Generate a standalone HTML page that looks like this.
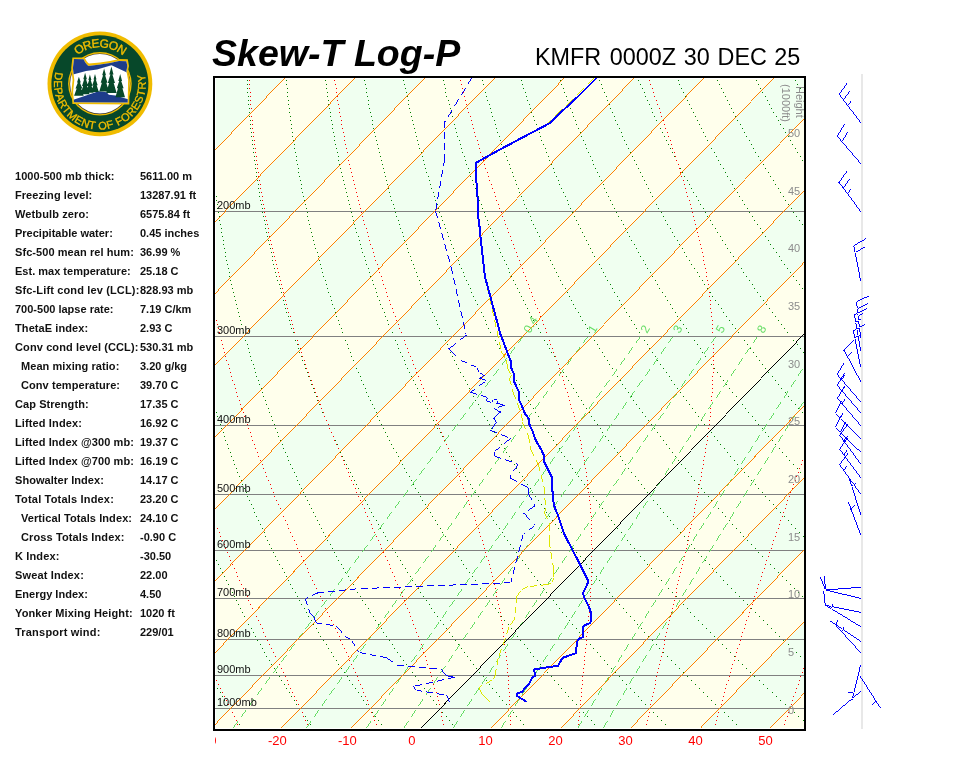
<!DOCTYPE html>
<html><head><meta charset="utf-8"><title>Skew-T Log-P KMFR</title>
<style>html,body{margin:0;padding:0;background:#fff;width:960px;height:768px;overflow:hidden}
svg{display:block} text{font-family:"Liberation Sans",Arial,sans-serif}</style></head>
<body><svg width="960" height="768" viewBox="0 0 960 768">

<defs>
<path id="arcTop" d="M72.02 60.40A36.4 36.4 0 0 1 127.78 60.40"/>
<path id="arcBot" d="M55.66 71.95A45.8 45.8 0 1 0 144.61 73.89"/>
<clipPath id="cp"><rect x="215" y="78" width="589" height="650"/></clipPath>
<clipPath id="cpl"><rect x="215" y="730" width="10" height="20"/></clipPath>
<clipPath id="ore"><path d="M74 59 L83.6 59.2 Q86 64.5 88.6 66 L100 64.6 L110 63 L119 61 L126.3 61.2 L127.4 66 L126.4 71 L128.1 80 L127.7 102.6 L74 102.2 L73.1 92 L74.3 80 L72.9 68 Z"/></clipPath>
</defs>
<circle cx="99.9" cy="83.8" r="52.4" fill="#f0bc00"/>
<circle cx="99.9" cy="83.8" r="48.5" fill="#07482a"/>
<circle cx="99.9" cy="83.8" r="31.8" fill="#f0bc00"/>
<circle cx="99.9" cy="83.8" r="30.4" fill="#333"/>
<circle cx="99.9" cy="83.8" r="29.8" fill="#fff"/>
<path d="M72.4 57.4 L84.6 57.6 Q87 62.5 89 63.6 L100 62.6 L110 61 L119 59 L127.8 59.3 L129 66 L128 71 L129.7 80 L129.3 104.4 L72.4 104 L71.4 92 L72.6 80 L71.2 68 Z" fill="#f0bc00"/>
<g clip-path="url(#ore)">
<rect x="70" y="55" width="62" height="52" fill="#fff"/>
<path d="M70 55 L132 55 L132 72.5 L127 72.5 L111.5 65.3 L97 69.5 L86 71 L73 74.5 L70 74.5 Z" fill="#1e3d8a"/>
<path d="M70 101 L98.6 91.2 L106.7 92.3 L108.8 94.8 L115.4 95.6 L132 100.5 L132 106 L70 106 Z" fill="#1e3d8a"/>
<g fill="#07482a"><path d="M78.9 76.8 L80.8 82.5 L79.9 82.5 L82.3 88.6 L81.1 88.6 L83.7 95.8 L74.1 95.8 L76.7 88.6 L75.5 88.6 L77.9 82.5 L77.0 82.5ZM85.1 72.8 L86.9 79.2 L86.0 79.2 L88.2 86.1 L87.1 86.1 L89.5 94.3 L80.7 94.3 L83.1 86.1 L82.0 86.1 L84.2 79.2 L83.3 79.2ZM89.9 74.6 L91.4 80.1 L90.7 80.1 L92.6 85.9 L91.6 85.9 L93.7 92.8 L86.1 92.8 L88.2 85.9 L87.2 85.9 L89.1 80.1 L88.4 80.1ZM95.0 73.9 L96.5 79.4 L95.8 79.4 L97.7 85.2 L96.7 85.2 L98.8 92.1 L91.2 92.1 L93.3 85.2 L92.3 85.2 L94.2 79.4 L93.5 79.4ZM104.1 68.4 L106.0 75.3 L105.1 75.3 L107.5 82.7 L106.3 82.7 L108.9 91.4 L99.3 91.4 L101.9 82.7 L100.7 82.7 L103.1 75.3 L102.2 75.3ZM111.4 66.6 L113.5 74.5 L112.4 74.5 L115.0 83.0 L113.7 83.0 L116.6 93.0 L106.2 93.0 L109.1 83.0 L107.8 83.0 L110.4 74.5 L109.3 74.5ZM120.2 73.9 L122.1 80.9 L121.2 80.9 L123.6 88.3 L122.4 88.3 L125.0 97.2 L115.4 97.2 L118.0 88.3 L116.8 88.3 L119.2 80.9 L118.3 80.9Z"/></g>
</g>
<text font-size="12" fill="#f0bc00" stroke="#f0bc00" stroke-width="0.4" letter-spacing="-0.8"><textPath href="#arcTop" startOffset="50%" text-anchor="middle">OREGON</textPath></text>
<text font-size="11" fill="#f0bc00" stroke="#f0bc00" stroke-width="0.35"><textPath href="#arcBot" textLength="165" lengthAdjust="spacing">DEPARTMENT OF FORESTRY</textPath></text>

<text x="212" y="65.8" font-size="37.7" font-weight="bold" font-style="italic" fill="#000" textLength="248.3" lengthAdjust="spacingAndGlyphs">Skew-T Log-P</text>
<g font-size="23.4" fill="#000"><text x="535" y="64.6">KMFR</text><text x="609.8" y="64.6">0000Z</text><text x="683.8" y="64.6">30</text><text x="717.5" y="64.6">DEC</text><text x="774.2" y="64.6">25</text></g>
<g font-size="11" font-weight="bold" fill="#111"><text x="15" y="179.6" textLength="99.5" lengthAdjust="spacing">1000-500 mb thick:</text><text x="140" y="179.6">5611.00 m</text><text x="15" y="198.6" textLength="77.2" lengthAdjust="spacing">Freezing level:</text><text x="140" y="198.6">13287.91 ft</text><text x="15" y="217.6" textLength="74.0" lengthAdjust="spacing">Wetbulb zero:</text><text x="140" y="217.6">6575.84 ft</text><text x="15" y="236.6" textLength="97.8" lengthAdjust="spacing">Precipitable water:</text><text x="140" y="236.6">0.45 inches</text><text x="15" y="255.6" textLength="118.8" lengthAdjust="spacing">Sfc-500 mean rel hum:</text><text x="140" y="255.6">36.99 %</text><text x="15" y="274.6" textLength="115.7" lengthAdjust="spacing">Est. max temperature:</text><text x="140" y="274.6">25.18 C</text><text x="15" y="293.6" textLength="124.3" lengthAdjust="spacing">Sfc-Lift cond lev (LCL):</text><text x="140" y="293.6">828.93 mb</text><text x="15" y="312.6" textLength="98.5" lengthAdjust="spacing">700-500 lapse rate:</text><text x="140" y="312.6">7.19 C/km</text><text x="15" y="331.6" textLength="73.2" lengthAdjust="spacing">ThetaE index:</text><text x="140" y="331.6">2.93 C</text><text x="15" y="350.6" textLength="123.4" lengthAdjust="spacing">Conv cond level (CCL):</text><text x="140" y="350.6">530.31 mb</text><text x="21" y="369.6" textLength="98.3" lengthAdjust="spacing">Mean mixing ratio:</text><text x="140" y="369.6">3.20 g/kg</text><text x="21" y="388.6" textLength="99.0" lengthAdjust="spacing">Conv temperature:</text><text x="140" y="388.6">39.70 C</text><text x="15" y="407.6" textLength="73.6" lengthAdjust="spacing">Cap Strength:</text><text x="140" y="407.6">17.35 C</text><text x="15" y="426.6" textLength="66.9" lengthAdjust="spacing">Lifted Index:</text><text x="140" y="426.6">16.92 C</text><text x="15" y="445.6" textLength="118.9" lengthAdjust="spacing">Lifted Index @300 mb:</text><text x="140" y="445.6">19.37 C</text><text x="15" y="464.6" textLength="118.9" lengthAdjust="spacing">Lifted Index @700 mb:</text><text x="140" y="464.6">16.19 C</text><text x="15" y="483.6" textLength="88.8" lengthAdjust="spacing">Showalter Index:</text><text x="140" y="483.6">14.17 C</text><text x="15" y="502.6" textLength="98.8" lengthAdjust="spacing">Total Totals Index:</text><text x="140" y="502.6">23.20 C</text><text x="21" y="521.6" textLength="111.0" lengthAdjust="spacing">Vertical Totals Index:</text><text x="140" y="521.6">24.10 C</text><text x="21" y="540.6" textLength="103.3" lengthAdjust="spacing">Cross Totals Index:</text><text x="140" y="540.6">-0.90 C</text><text x="15" y="559.6" textLength="44.4" lengthAdjust="spacing">K Index:</text><text x="140" y="559.6">-30.50</text><text x="15" y="578.6" textLength="68.8" lengthAdjust="spacing">Sweat Index:</text><text x="140" y="578.6">22.00</text><text x="15" y="597.6" textLength="72.8" lengthAdjust="spacing">Energy Index:</text><text x="140" y="597.6">4.50</text><text x="15" y="616.6" textLength="117.6" lengthAdjust="spacing">Yonker Mixing Height:</text><text x="140" y="616.6">1020 ft</text><text x="15" y="635.6" textLength="85.4" lengthAdjust="spacing">Transport wind:</text><text x="140" y="635.6">229/01</text></g>
<rect x="215" y="78" width="589" height="651" fill="#fff"/>
<rect x="216" y="79" width="588" height="649" fill="#f0fff0"/>
<path d="M284 79 216 149 216 220.8 353.9 79ZM423.7 79 216 292.6 216 364.4 493.5 79ZM563.4 79 216 436.3 216 508.1 633.2 79ZM703.1 79 216 579.9 216 651.7 772.9 79ZM804 118.8 216 723.6 216 728 281.5 728 804 190.7ZM804 262.5 351.4 728 421.2 728 804 334.3ZM804 406.1 491 728 560.9 728 804 477.9ZM804 549.8 630.7 728 700.5 728 804 621.6ZM804 693.4 770.4 728 804 728Z" fill="#ffffec"/>
<path d="M217 688h1v1h-1zM220 692h1v1h-1zM222 696h1v1h-1zM224 700h1v1h-1zM227 704h1v1h-1zM229 708h1v1h-1zM232 712h1v1h-1zM234 716h1v1h-1zM236 720h1v1h-1zM239 724h1v1h-1zM216 560h1v1h-1zM218 564h1v1h-1zM220 568h1v1h-1zM222 572h1v1h-1zM224 576h1v1h-1zM226 580h1v1h-1zM228 584h1v1h-1zM230 588h1v1h-1zM232 592h1v1h-1zM234 596h1v1h-1zM236 600h1v1h-1zM238 604h1v1h-1zM240 608h1v1h-1zM242 612h1v1h-1zM244 616h1v1h-1zM246 620h1v1h-1zM248 624h1v1h-1zM251 628h1v1h-1zM253 632h1v1h-1zM255 636h1v1h-1zM257 640h1v1h-1zM260 644h1v1h-1zM262 648h1v1h-1zM264 652h1v1h-1zM266 656h1v1h-1zM269 660h1v1h-1zM271 664h1v1h-1zM274 668h1v1h-1zM276 672h1v1h-1zM279 676h1v1h-1zM281 680h1v1h-1zM284 684h1v1h-1zM286 688h1v1h-1zM289 692h1v1h-1zM291 696h1v1h-1zM294 700h1v1h-1zM296 704h1v1h-1zM299 708h1v1h-1zM302 712h1v1h-1zM305 716h1v1h-1zM307 720h1v1h-1zM310 724h1v1h-1zM216 412h1v1h-1zM217 416h1v1h-1zM218 420h1v1h-1zM220 424h1v1h-1zM221 428h1v1h-1zM223 432h1v1h-1zM224 436h1v1h-1zM225 440h1v1h-1zM227 444h1v1h-1zM228 448h1v1h-1zM230 452h1v1h-1zM231 456h1v1h-1zM233 460h1v1h-1zM234 464h1v1h-1zM236 468h1v1h-1zM237 472h1v1h-1zM239 476h1v1h-1zM241 480h1v1h-1zM242 484h1v1h-1zM244 488h1v1h-1zM246 492h1v1h-1zM247 496h1v1h-1zM249 500h1v1h-1zM251 504h1v1h-1zM253 508h1v1h-1zM254 512h1v1h-1zM256 516h1v1h-1zM258 520h1v1h-1zM260 524h1v1h-1zM262 528h1v1h-1zM264 532h1v1h-1zM265 536h1v1h-1zM267 540h1v1h-1zM269 544h1v1h-1zM271 548h1v1h-1zM273 552h1v1h-1zM275 556h1v1h-1zM277 560h1v1h-1zM279 564h1v1h-1zM282 568h1v1h-1zM284 572h1v1h-1zM286 576h1v1h-1zM288 580h1v1h-1zM290 584h1v1h-1zM292 588h1v1h-1zM295 592h1v1h-1zM297 596h1v1h-1zM299 600h1v1h-1zM301 604h1v1h-1zM304 608h1v1h-1zM306 612h1v1h-1zM308 616h1v1h-1zM311 620h1v1h-1zM313 624h1v1h-1zM316 628h1v1h-1zM318 632h1v1h-1zM320 636h1v1h-1zM323 640h1v1h-1zM326 644h1v1h-1zM328 648h1v1h-1zM331 652h1v1h-1zM333 656h1v1h-1zM336 660h1v1h-1zM338 664h1v1h-1zM341 668h1v1h-1zM344 672h1v1h-1zM347 676h1v1h-1zM349 680h1v1h-1zM352 684h1v1h-1zM355 688h1v1h-1zM358 692h1v1h-1zM361 696h1v1h-1zM363 700h1v1h-1zM366 704h1v1h-1zM369 708h1v1h-1zM372 712h1v1h-1zM375 716h1v1h-1zM378 720h1v1h-1zM381 724h1v1h-1zM216 196h1v1h-1zM216 200h1v1h-1zM217 204h1v1h-1zM217 208h1v1h-1zM218 212h1v1h-1zM219 216h1v1h-1zM219 220h1v1h-1zM220 224h1v1h-1zM221 228h1v1h-1zM221 232h1v1h-1zM222 236h1v1h-1zM223 240h1v1h-1zM223 244h1v1h-1zM224 248h1v1h-1zM225 252h1v1h-1zM225 256h1v1h-1zM226 260h1v1h-1zM227 264h1v1h-1zM228 268h1v1h-1zM229 272h1v1h-1zM229 276h1v1h-1zM230 280h1v1h-1zM231 284h1v1h-1zM232 288h1v1h-1zM233 292h1v1h-1zM234 296h1v1h-1zM235 300h1v1h-1zM236 304h1v1h-1zM237 308h1v1h-1zM238 312h1v1h-1zM239 316h1v1h-1zM240 320h1v1h-1zM241 324h1v1h-1zM242 328h1v1h-1zM243 332h1v1h-1zM244 336h1v1h-1zM245 340h1v1h-1zM247 344h1v1h-1zM248 348h1v1h-1zM249 352h1v1h-1zM250 356h1v1h-1zM251 360h1v1h-1zM253 364h1v1h-1zM254 368h1v1h-1zM255 372h1v1h-1zM256 376h1v1h-1zM258 380h1v1h-1zM259 384h1v1h-1zM261 388h1v1h-1zM262 392h1v1h-1zM263 396h1v1h-1zM265 400h1v1h-1zM266 404h1v1h-1zM268 408h1v1h-1zM269 412h1v1h-1zM271 416h1v1h-1zM272 420h1v1h-1zM274 424h1v1h-1zM275 428h1v1h-1zM277 432h1v1h-1zM278 436h1v1h-1zM280 440h1v1h-1zM282 444h1v1h-1zM283 448h1v1h-1zM285 452h1v1h-1zM287 456h1v1h-1zM288 460h1v1h-1zM290 464h1v1h-1zM292 468h1v1h-1zM294 472h1v1h-1zM296 476h1v1h-1zM297 480h1v1h-1zM299 484h1v1h-1zM301 488h1v1h-1zM303 492h1v1h-1zM305 496h1v1h-1zM307 500h1v1h-1zM309 504h1v1h-1zM311 508h1v1h-1zM313 512h1v1h-1zM315 516h1v1h-1zM317 520h1v1h-1zM319 524h1v1h-1zM321 528h1v1h-1zM323 532h1v1h-1zM325 536h1v1h-1zM327 540h1v1h-1zM330 544h1v1h-1zM332 548h1v1h-1zM334 552h1v1h-1zM336 556h1v1h-1zM338 560h1v1h-1zM341 564h1v1h-1zM343 568h1v1h-1zM345 572h1v1h-1zM348 576h1v1h-1zM350 580h1v1h-1zM353 584h1v1h-1zM355 588h1v1h-1zM357 592h1v1h-1zM360 596h1v1h-1zM362 600h1v1h-1zM365 604h1v1h-1zM368 608h1v1h-1zM370 612h1v1h-1zM373 616h1v1h-1zM375 620h1v1h-1zM378 624h1v1h-1zM381 628h1v1h-1zM383 632h1v1h-1zM386 636h1v1h-1zM389 640h1v1h-1zM392 644h1v1h-1zM394 648h1v1h-1zM397 652h1v1h-1zM400 656h1v1h-1zM403 660h1v1h-1zM406 664h1v1h-1zM409 668h1v1h-1zM412 672h1v1h-1zM415 676h1v1h-1zM418 680h1v1h-1zM421 684h1v1h-1zM424 688h1v1h-1zM427 692h1v1h-1zM430 696h1v1h-1zM433 700h1v1h-1zM436 704h1v1h-1zM439 708h1v1h-1zM442 712h1v1h-1zM446 716h1v1h-1zM449 720h1v1h-1zM452 724h1v1h-1zM247 80h1v1h-1zM247 84h1v1h-1zM247 88h1v1h-1zM247 92h1v1h-1zM248 96h1v1h-1zM248 100h1v1h-1zM248 104h1v1h-1zM249 108h1v1h-1zM249 112h1v1h-1zM249 116h1v1h-1zM250 120h1v1h-1zM250 124h1v1h-1zM250 128h1v1h-1zM251 132h1v1h-1zM251 136h1v1h-1zM252 140h1v1h-1zM252 144h1v1h-1zM253 148h1v1h-1zM253 152h1v1h-1zM254 156h1v1h-1zM254 160h1v1h-1zM255 164h1v1h-1zM255 168h1v1h-1zM256 172h1v1h-1zM256 176h1v1h-1zM257 180h1v1h-1zM258 184h1v1h-1zM258 188h1v1h-1zM259 192h1v1h-1zM259 196h1v1h-1zM260 200h1v1h-1zM261 204h1v1h-1zM262 208h1v1h-1zM262 212h1v1h-1zM263 216h1v1h-1zM264 220h1v1h-1zM265 224h1v1h-1zM265 228h1v1h-1zM266 232h1v1h-1zM267 236h1v1h-1zM268 240h1v1h-1zM269 244h1v1h-1zM270 248h1v1h-1zM271 252h1v1h-1zM272 256h1v1h-1zM272 260h1v1h-1zM273 264h1v1h-1zM274 268h1v1h-1zM275 272h1v1h-1zM276 276h1v1h-1zM277 280h1v1h-1zM279 284h1v1h-1zM280 288h1v1h-1zM281 292h1v1h-1zM282 296h1v1h-1zM283 300h1v1h-1zM284 304h1v1h-1zM285 308h1v1h-1zM286 312h1v1h-1zM288 316h1v1h-1zM289 320h1v1h-1zM290 324h1v1h-1zM291 328h1v1h-1zM293 332h1v1h-1zM294 336h1v1h-1zM295 340h1v1h-1zM297 344h1v1h-1zM298 348h1v1h-1zM299 352h1v1h-1zM301 356h1v1h-1zM302 360h1v1h-1zM304 364h1v1h-1zM305 368h1v1h-1zM307 372h1v1h-1zM308 376h1v1h-1zM310 380h1v1h-1zM311 384h1v1h-1zM313 388h1v1h-1zM314 392h1v1h-1zM316 396h1v1h-1zM317 400h1v1h-1zM319 404h1v1h-1zM321 408h1v1h-1zM322 412h1v1h-1zM324 416h1v1h-1zM326 420h1v1h-1zM328 424h1v1h-1zM329 428h1v1h-1zM331 432h1v1h-1zM333 436h1v1h-1zM335 440h1v1h-1zM337 444h1v1h-1zM338 448h1v1h-1zM340 452h1v1h-1zM342 456h1v1h-1zM344 460h1v1h-1zM346 464h1v1h-1zM348 468h1v1h-1zM350 472h1v1h-1zM352 476h1v1h-1zM354 480h1v1h-1zM356 484h1v1h-1zM358 488h1v1h-1zM360 492h1v1h-1zM362 496h1v1h-1zM365 500h1v1h-1zM367 504h1v1h-1zM369 508h1v1h-1zM371 512h1v1h-1zM373 516h1v1h-1zM376 520h1v1h-1zM378 524h1v1h-1zM380 528h1v1h-1zM383 532h1v1h-1zM385 536h1v1h-1zM387 540h1v1h-1zM390 544h1v1h-1zM392 548h1v1h-1zM395 552h1v1h-1zM397 556h1v1h-1zM400 560h1v1h-1zM402 564h1v1h-1zM405 568h1v1h-1zM407 572h1v1h-1zM410 576h1v1h-1zM412 580h1v1h-1zM415 584h1v1h-1zM418 588h1v1h-1zM420 592h1v1h-1zM423 596h1v1h-1zM426 600h1v1h-1zM429 604h1v1h-1zM431 608h1v1h-1zM434 612h1v1h-1zM437 616h1v1h-1zM440 620h1v1h-1zM443 624h1v1h-1zM446 628h1v1h-1zM449 632h1v1h-1zM452 636h1v1h-1zM455 640h1v1h-1zM458 644h1v1h-1zM461 648h1v1h-1zM464 652h1v1h-1zM467 656h1v1h-1zM470 660h1v1h-1zM473 664h1v1h-1zM476 668h1v1h-1zM479 672h1v1h-1zM483 676h1v1h-1zM486 680h1v1h-1zM489 684h1v1h-1zM492 688h1v1h-1zM496 692h1v1h-1zM499 696h1v1h-1zM502 700h1v1h-1zM506 704h1v1h-1zM509 708h1v1h-1zM513 712h1v1h-1zM516 716h1v1h-1zM520 720h1v1h-1zM523 724h1v1h-1zM286 80h1v1h-1zM286 84h1v1h-1zM287 88h1v1h-1zM287 92h1v1h-1zM287 96h1v1h-1zM288 100h1v1h-1zM288 104h1v1h-1zM289 108h1v1h-1zM289 112h1v1h-1zM290 116h1v1h-1zM290 120h1v1h-1zM291 124h1v1h-1zM291 128h1v1h-1zM292 132h1v1h-1zM292 136h1v1h-1zM293 140h1v1h-1zM294 144h1v1h-1zM294 148h1v1h-1zM295 152h1v1h-1zM296 156h1v1h-1zM296 160h1v1h-1zM297 164h1v1h-1zM298 168h1v1h-1zM298 172h1v1h-1zM299 176h1v1h-1zM300 180h1v1h-1zM301 184h1v1h-1zM301 188h1v1h-1zM302 192h1v1h-1zM303 196h1v1h-1zM304 200h1v1h-1zM305 204h1v1h-1zM306 208h1v1h-1zM307 212h1v1h-1zM307 216h1v1h-1zM308 220h1v1h-1zM309 224h1v1h-1zM310 228h1v1h-1zM311 232h1v1h-1zM312 236h1v1h-1zM313 240h1v1h-1zM314 244h1v1h-1zM315 248h1v1h-1zM317 252h1v1h-1zM318 256h1v1h-1zM319 260h1v1h-1zM320 264h1v1h-1zM321 268h1v1h-1zM322 272h1v1h-1zM323 276h1v1h-1zM325 280h1v1h-1zM326 284h1v1h-1zM327 288h1v1h-1zM328 292h1v1h-1zM330 296h1v1h-1zM331 300h1v1h-1zM332 304h1v1h-1zM334 308h1v1h-1zM335 312h1v1h-1zM336 316h1v1h-1zM338 320h1v1h-1zM339 324h1v1h-1zM341 328h1v1h-1zM342 332h1v1h-1zM344 336h1v1h-1zM345 340h1v1h-1zM347 344h1v1h-1zM348 348h1v1h-1zM350 352h1v1h-1zM351 356h1v1h-1zM353 360h1v1h-1zM355 364h1v1h-1zM356 368h1v1h-1zM358 372h1v1h-1zM360 376h1v1h-1zM361 380h1v1h-1zM363 384h1v1h-1zM365 388h1v1h-1zM366 392h1v1h-1zM368 396h1v1h-1zM370 400h1v1h-1zM372 404h1v1h-1zM374 408h1v1h-1zM376 412h1v1h-1zM377 416h1v1h-1zM379 420h1v1h-1zM381 424h1v1h-1zM383 428h1v1h-1zM385 432h1v1h-1zM387 436h1v1h-1zM389 440h1v1h-1zM391 444h1v1h-1zM393 448h1v1h-1zM396 452h1v1h-1zM398 456h1v1h-1zM400 460h1v1h-1zM402 464h1v1h-1zM404 468h1v1h-1zM406 472h1v1h-1zM409 476h1v1h-1zM411 480h1v1h-1zM413 484h1v1h-1zM415 488h1v1h-1zM418 492h1v1h-1zM420 496h1v1h-1zM422 500h1v1h-1zM425 504h1v1h-1zM427 508h1v1h-1zM430 512h1v1h-1zM432 516h1v1h-1zM435 520h1v1h-1zM437 524h1v1h-1zM440 528h1v1h-1zM442 532h1v1h-1zM445 536h1v1h-1zM447 540h1v1h-1zM450 544h1v1h-1zM453 548h1v1h-1zM455 552h1v1h-1zM458 556h1v1h-1zM461 560h1v1h-1zM463 564h1v1h-1zM466 568h1v1h-1zM469 572h1v1h-1zM472 576h1v1h-1zM475 580h1v1h-1zM477 584h1v1h-1zM480 588h1v1h-1zM483 592h1v1h-1zM486 596h1v1h-1zM489 600h1v1h-1zM492 604h1v1h-1zM495 608h1v1h-1zM498 612h1v1h-1zM501 616h1v1h-1zM504 620h1v1h-1zM508 624h1v1h-1zM511 628h1v1h-1zM514 632h1v1h-1zM517 636h1v1h-1zM520 640h1v1h-1zM524 644h1v1h-1zM527 648h1v1h-1zM530 652h1v1h-1zM533 656h1v1h-1zM537 660h1v1h-1zM540 664h1v1h-1zM544 668h1v1h-1zM547 672h1v1h-1zM551 676h1v1h-1zM554 680h1v1h-1zM558 684h1v1h-1zM561 688h1v1h-1zM565 692h1v1h-1zM568 696h1v1h-1zM572 700h1v1h-1zM576 704h1v1h-1zM579 708h1v1h-1zM583 712h1v1h-1zM587 716h1v1h-1zM591 720h1v1h-1zM594 724h1v1h-1zM325 80h1v1h-1zM326 84h1v1h-1zM326 88h1v1h-1zM327 92h1v1h-1zM327 96h1v1h-1zM328 100h1v1h-1zM328 104h1v1h-1zM329 108h1v1h-1zM330 112h1v1h-1zM330 116h1v1h-1zM331 120h1v1h-1zM332 124h1v1h-1zM332 128h1v1h-1zM333 132h1v1h-1zM334 136h1v1h-1zM334 140h1v1h-1zM335 144h1v1h-1zM336 148h1v1h-1zM337 152h1v1h-1zM338 156h1v1h-1zM338 160h1v1h-1zM339 164h1v1h-1zM340 168h1v1h-1zM341 172h1v1h-1zM342 176h1v1h-1zM343 180h1v1h-1zM344 184h1v1h-1zM345 188h1v1h-1zM346 192h1v1h-1zM347 196h1v1h-1zM348 200h1v1h-1zM349 204h1v1h-1zM350 208h1v1h-1zM351 212h1v1h-1zM352 216h1v1h-1zM353 220h1v1h-1zM354 224h1v1h-1zM355 228h1v1h-1zM356 232h1v1h-1zM358 236h1v1h-1zM359 240h1v1h-1zM360 244h1v1h-1zM361 248h1v1h-1zM362 252h1v1h-1zM364 256h1v1h-1zM365 260h1v1h-1zM366 264h1v1h-1zM368 268h1v1h-1zM369 272h1v1h-1zM370 276h1v1h-1zM372 280h1v1h-1zM373 284h1v1h-1zM375 288h1v1h-1zM376 292h1v1h-1zM377 296h1v1h-1zM379 300h1v1h-1zM380 304h1v1h-1zM382 308h1v1h-1zM384 312h1v1h-1zM385 316h1v1h-1zM387 320h1v1h-1zM388 324h1v1h-1zM390 328h1v1h-1zM392 332h1v1h-1zM393 336h1v1h-1zM395 340h1v1h-1zM397 344h1v1h-1zM398 348h1v1h-1zM400 352h1v1h-1zM402 356h1v1h-1zM404 360h1v1h-1zM405 364h1v1h-1zM407 368h1v1h-1zM409 372h1v1h-1zM411 376h1v1h-1zM413 380h1v1h-1zM415 384h1v1h-1zM417 388h1v1h-1zM419 392h1v1h-1zM421 396h1v1h-1zM423 400h1v1h-1zM425 404h1v1h-1zM427 408h1v1h-1zM429 412h1v1h-1zM431 416h1v1h-1zM433 420h1v1h-1zM435 424h1v1h-1zM437 428h1v1h-1zM440 432h1v1h-1zM442 436h1v1h-1zM444 440h1v1h-1zM446 444h1v1h-1zM448 448h1v1h-1zM451 452h1v1h-1zM453 456h1v1h-1zM455 460h1v1h-1zM458 464h1v1h-1zM460 468h1v1h-1zM463 472h1v1h-1zM465 476h1v1h-1zM467 480h1v1h-1zM470 484h1v1h-1zM472 488h1v1h-1zM475 492h1v1h-1zM478 496h1v1h-1zM480 500h1v1h-1zM483 504h1v1h-1zM485 508h1v1h-1zM488 512h1v1h-1zM491 516h1v1h-1zM493 520h1v1h-1zM496 524h1v1h-1zM499 528h1v1h-1zM502 532h1v1h-1zM504 536h1v1h-1zM507 540h1v1h-1zM510 544h1v1h-1zM513 548h1v1h-1zM516 552h1v1h-1zM519 556h1v1h-1zM522 560h1v1h-1zM525 564h1v1h-1zM528 568h1v1h-1zM531 572h1v1h-1zM534 576h1v1h-1zM537 580h1v1h-1zM540 584h1v1h-1zM543 588h1v1h-1zM546 592h1v1h-1zM549 596h1v1h-1zM553 600h1v1h-1zM556 604h1v1h-1zM559 608h1v1h-1zM562 612h1v1h-1zM566 616h1v1h-1zM569 620h1v1h-1zM572 624h1v1h-1zM576 628h1v1h-1zM579 632h1v1h-1zM583 636h1v1h-1zM586 640h1v1h-1zM590 644h1v1h-1zM593 648h1v1h-1zM597 652h1v1h-1zM600 656h1v1h-1zM604 660h1v1h-1zM607 664h1v1h-1zM611 668h1v1h-1zM615 672h1v1h-1zM619 676h1v1h-1zM622 680h1v1h-1zM626 684h1v1h-1zM630 688h1v1h-1zM634 692h1v1h-1zM638 696h1v1h-1zM641 700h1v1h-1zM645 704h1v1h-1zM649 708h1v1h-1zM653 712h1v1h-1zM657 716h1v1h-1zM661 720h1v1h-1zM665 724h1v1h-1zM364 80h1v1h-1zM365 84h1v1h-1zM366 88h1v1h-1zM366 92h1v1h-1zM367 96h1v1h-1zM368 100h1v1h-1zM368 104h1v1h-1zM369 108h1v1h-1zM370 112h1v1h-1zM371 116h1v1h-1zM372 120h1v1h-1zM372 124h1v1h-1zM373 128h1v1h-1zM374 132h1v1h-1zM375 136h1v1h-1zM376 140h1v1h-1zM377 144h1v1h-1zM378 148h1v1h-1zM379 152h1v1h-1zM380 156h1v1h-1zM381 160h1v1h-1zM382 164h1v1h-1zM383 168h1v1h-1zM384 172h1v1h-1zM385 176h1v1h-1zM386 180h1v1h-1zM387 184h1v1h-1zM388 188h1v1h-1zM389 192h1v1h-1zM390 196h1v1h-1zM391 200h1v1h-1zM393 204h1v1h-1zM394 208h1v1h-1zM395 212h1v1h-1zM396 216h1v1h-1zM398 220h1v1h-1zM399 224h1v1h-1zM400 228h1v1h-1zM402 232h1v1h-1zM403 236h1v1h-1zM404 240h1v1h-1zM406 244h1v1h-1zM407 248h1v1h-1zM408 252h1v1h-1zM410 256h1v1h-1zM411 260h1v1h-1zM413 264h1v1h-1zM414 268h1v1h-1zM416 272h1v1h-1zM417 276h1v1h-1zM419 280h1v1h-1zM420 284h1v1h-1zM422 288h1v1h-1zM424 292h1v1h-1zM425 296h1v1h-1zM427 300h1v1h-1zM429 304h1v1h-1zM430 308h1v1h-1zM432 312h1v1h-1zM434 316h1v1h-1zM436 320h1v1h-1zM437 324h1v1h-1zM439 328h1v1h-1zM441 332h1v1h-1zM443 336h1v1h-1zM445 340h1v1h-1zM447 344h1v1h-1zM449 348h1v1h-1zM450 352h1v1h-1zM452 356h1v1h-1zM454 360h1v1h-1zM456 364h1v1h-1zM458 368h1v1h-1zM460 372h1v1h-1zM463 376h1v1h-1zM465 380h1v1h-1zM467 384h1v1h-1zM469 388h1v1h-1zM471 392h1v1h-1zM473 396h1v1h-1zM475 400h1v1h-1zM478 404h1v1h-1zM480 408h1v1h-1zM482 412h1v1h-1zM484 416h1v1h-1zM487 420h1v1h-1zM489 424h1v1h-1zM491 428h1v1h-1zM494 432h1v1h-1zM496 436h1v1h-1zM499 440h1v1h-1zM501 444h1v1h-1zM504 448h1v1h-1zM506 452h1v1h-1zM509 456h1v1h-1zM511 460h1v1h-1zM514 464h1v1h-1zM516 468h1v1h-1zM519 472h1v1h-1zM522 476h1v1h-1zM524 480h1v1h-1zM527 484h1v1h-1zM530 488h1v1h-1zM532 492h1v1h-1zM535 496h1v1h-1zM538 500h1v1h-1zM541 504h1v1h-1zM544 508h1v1h-1zM546 512h1v1h-1zM549 516h1v1h-1zM552 520h1v1h-1zM555 524h1v1h-1zM558 528h1v1h-1zM561 532h1v1h-1zM564 536h1v1h-1zM567 540h1v1h-1zM570 544h1v1h-1zM573 548h1v1h-1zM576 552h1v1h-1zM580 556h1v1h-1zM583 560h1v1h-1zM586 564h1v1h-1zM589 568h1v1h-1zM592 572h1v1h-1zM596 576h1v1h-1zM599 580h1v1h-1zM602 584h1v1h-1zM606 588h1v1h-1zM609 592h1v1h-1zM612 596h1v1h-1zM616 600h1v1h-1zM619 604h1v1h-1zM623 608h1v1h-1zM626 612h1v1h-1zM630 616h1v1h-1zM634 620h1v1h-1zM637 624h1v1h-1zM641 628h1v1h-1zM644 632h1v1h-1zM648 636h1v1h-1zM652 640h1v1h-1zM656 644h1v1h-1zM659 648h1v1h-1zM663 652h1v1h-1zM667 656h1v1h-1zM671 660h1v1h-1zM675 664h1v1h-1zM679 668h1v1h-1zM683 672h1v1h-1zM687 676h1v1h-1zM691 680h1v1h-1zM695 684h1v1h-1zM699 688h1v1h-1zM703 692h1v1h-1zM707 696h1v1h-1zM711 700h1v1h-1zM715 704h1v1h-1zM719 708h1v1h-1zM724 712h1v1h-1zM728 716h1v1h-1zM732 720h1v1h-1zM736 724h1v1h-1zM403 80h1v1h-1zM404 84h1v1h-1zM405 88h1v1h-1zM406 92h1v1h-1zM407 96h1v1h-1zM408 100h1v1h-1zM408 104h1v1h-1zM409 108h1v1h-1zM410 112h1v1h-1zM411 116h1v1h-1zM412 120h1v1h-1zM413 124h1v1h-1zM414 128h1v1h-1zM415 132h1v1h-1zM416 136h1v1h-1zM417 140h1v1h-1zM418 144h1v1h-1zM419 148h1v1h-1zM421 152h1v1h-1zM422 156h1v1h-1zM423 160h1v1h-1zM424 164h1v1h-1zM425 168h1v1h-1zM426 172h1v1h-1zM428 176h1v1h-1zM429 180h1v1h-1zM430 184h1v1h-1zM431 188h1v1h-1zM433 192h1v1h-1zM434 196h1v1h-1zM435 200h1v1h-1zM437 204h1v1h-1zM438 208h1v1h-1zM439 212h1v1h-1zM441 216h1v1h-1zM442 220h1v1h-1zM444 224h1v1h-1zM445 228h1v1h-1zM447 232h1v1h-1zM448 236h1v1h-1zM450 240h1v1h-1zM451 244h1v1h-1zM453 248h1v1h-1zM454 252h1v1h-1zM456 256h1v1h-1zM458 260h1v1h-1zM459 264h1v1h-1zM461 268h1v1h-1zM463 272h1v1h-1zM464 276h1v1h-1zM466 280h1v1h-1zM468 284h1v1h-1zM470 288h1v1h-1zM471 292h1v1h-1zM473 296h1v1h-1zM475 300h1v1h-1zM477 304h1v1h-1zM479 308h1v1h-1zM481 312h1v1h-1zM483 316h1v1h-1zM485 320h1v1h-1zM486 324h1v1h-1zM488 328h1v1h-1zM490 332h1v1h-1zM493 336h1v1h-1zM495 340h1v1h-1zM497 344h1v1h-1zM499 348h1v1h-1zM501 352h1v1h-1zM503 356h1v1h-1zM505 360h1v1h-1zM507 364h1v1h-1zM510 368h1v1h-1zM512 372h1v1h-1zM514 376h1v1h-1zM516 380h1v1h-1zM519 384h1v1h-1zM521 388h1v1h-1zM523 392h1v1h-1zM526 396h1v1h-1zM528 400h1v1h-1zM530 404h1v1h-1zM533 408h1v1h-1zM535 412h1v1h-1zM538 416h1v1h-1zM540 420h1v1h-1zM543 424h1v1h-1zM545 428h1v1h-1zM548 432h1v1h-1zM551 436h1v1h-1zM553 440h1v1h-1zM556 444h1v1h-1zM559 448h1v1h-1zM561 452h1v1h-1zM564 456h1v1h-1zM567 460h1v1h-1zM570 464h1v1h-1zM572 468h1v1h-1zM575 472h1v1h-1zM578 476h1v1h-1zM581 480h1v1h-1zM584 484h1v1h-1zM587 488h1v1h-1zM590 492h1v1h-1zM593 496h1v1h-1zM596 500h1v1h-1zM599 504h1v1h-1zM602 508h1v1h-1zM605 512h1v1h-1zM608 516h1v1h-1zM611 520h1v1h-1zM614 524h1v1h-1zM617 528h1v1h-1zM621 532h1v1h-1zM624 536h1v1h-1zM627 540h1v1h-1zM630 544h1v1h-1zM634 548h1v1h-1zM637 552h1v1h-1zM640 556h1v1h-1zM644 560h1v1h-1zM647 564h1v1h-1zM651 568h1v1h-1zM654 572h1v1h-1zM658 576h1v1h-1zM661 580h1v1h-1zM665 584h1v1h-1zM668 588h1v1h-1zM672 592h1v1h-1zM676 596h1v1h-1zM679 600h1v1h-1zM683 604h1v1h-1zM687 608h1v1h-1zM690 612h1v1h-1zM694 616h1v1h-1zM698 620h1v1h-1zM702 624h1v1h-1zM706 628h1v1h-1zM710 632h1v1h-1zM714 636h1v1h-1zM718 640h1v1h-1zM722 644h1v1h-1zM726 648h1v1h-1zM730 652h1v1h-1zM734 656h1v1h-1zM738 660h1v1h-1zM742 664h1v1h-1zM746 668h1v1h-1zM750 672h1v1h-1zM754 676h1v1h-1zM759 680h1v1h-1zM763 684h1v1h-1zM767 688h1v1h-1zM772 692h1v1h-1zM776 696h1v1h-1zM780 700h1v1h-1zM785 704h1v1h-1zM789 708h1v1h-1zM794 712h1v1h-1zM798 716h1v1h-1zM803 720h1v1h-1zM443 80h1v1h-1zM444 84h1v1h-1zM445 88h1v1h-1zM445 92h1v1h-1zM446 96h1v1h-1zM448 100h1v1h-1zM449 104h1v1h-1zM450 108h1v1h-1zM451 112h1v1h-1zM452 116h1v1h-1zM453 120h1v1h-1zM454 124h1v1h-1zM455 128h1v1h-1zM456 132h1v1h-1zM457 136h1v1h-1zM459 140h1v1h-1zM460 144h1v1h-1zM461 148h1v1h-1zM462 152h1v1h-1zM464 156h1v1h-1zM465 160h1v1h-1zM466 164h1v1h-1zM468 168h1v1h-1zM469 172h1v1h-1zM470 176h1v1h-1zM472 180h1v1h-1zM473 184h1v1h-1zM475 188h1v1h-1zM476 192h1v1h-1zM478 196h1v1h-1zM479 200h1v1h-1zM481 204h1v1h-1zM482 208h1v1h-1zM484 212h1v1h-1zM485 216h1v1h-1zM487 220h1v1h-1zM488 224h1v1h-1zM490 228h1v1h-1zM492 232h1v1h-1zM493 236h1v1h-1zM495 240h1v1h-1zM497 244h1v1h-1zM499 248h1v1h-1zM500 252h1v1h-1zM502 256h1v1h-1zM504 260h1v1h-1zM506 264h1v1h-1zM508 268h1v1h-1zM509 272h1v1h-1zM511 276h1v1h-1zM513 280h1v1h-1zM515 284h1v1h-1zM517 288h1v1h-1zM519 292h1v1h-1zM521 296h1v1h-1zM523 300h1v1h-1zM525 304h1v1h-1zM527 308h1v1h-1zM529 312h1v1h-1zM531 316h1v1h-1zM533 320h1v1h-1zM536 324h1v1h-1zM538 328h1v1h-1zM540 332h1v1h-1zM542 336h1v1h-1zM544 340h1v1h-1zM547 344h1v1h-1zM549 348h1v1h-1zM551 352h1v1h-1zM554 356h1v1h-1zM556 360h1v1h-1zM558 364h1v1h-1zM561 368h1v1h-1zM563 372h1v1h-1zM566 376h1v1h-1zM568 380h1v1h-1zM571 384h1v1h-1zM573 388h1v1h-1zM576 392h1v1h-1zM578 396h1v1h-1zM581 400h1v1h-1zM583 404h1v1h-1zM586 408h1v1h-1zM589 412h1v1h-1zM591 416h1v1h-1zM594 420h1v1h-1zM597 424h1v1h-1zM600 428h1v1h-1zM602 432h1v1h-1zM605 436h1v1h-1zM608 440h1v1h-1zM611 444h1v1h-1zM614 448h1v1h-1zM617 452h1v1h-1zM620 456h1v1h-1zM622 460h1v1h-1zM625 464h1v1h-1zM628 468h1v1h-1zM631 472h1v1h-1zM635 476h1v1h-1zM638 480h1v1h-1zM641 484h1v1h-1zM644 488h1v1h-1zM647 492h1v1h-1zM650 496h1v1h-1zM653 500h1v1h-1zM657 504h1v1h-1zM660 508h1v1h-1zM663 512h1v1h-1zM667 516h1v1h-1zM670 520h1v1h-1zM673 524h1v1h-1zM677 528h1v1h-1zM680 532h1v1h-1zM684 536h1v1h-1zM687 540h1v1h-1zM691 544h1v1h-1zM694 548h1v1h-1zM698 552h1v1h-1zM701 556h1v1h-1zM705 560h1v1h-1zM709 564h1v1h-1zM712 568h1v1h-1zM716 572h1v1h-1zM720 576h1v1h-1zM723 580h1v1h-1zM727 584h1v1h-1zM731 588h1v1h-1zM735 592h1v1h-1zM739 596h1v1h-1zM743 600h1v1h-1zM747 604h1v1h-1zM751 608h1v1h-1zM755 612h1v1h-1zM759 616h1v1h-1zM763 620h1v1h-1zM767 624h1v1h-1zM771 628h1v1h-1zM775 632h1v1h-1zM779 636h1v1h-1zM783 640h1v1h-1zM788 644h1v1h-1zM792 648h1v1h-1zM796 652h1v1h-1zM800 656h1v1h-1zM482 80h1v1h-1zM483 84h1v1h-1zM484 88h1v1h-1zM485 92h1v1h-1zM486 96h1v1h-1zM487 100h1v1h-1zM489 104h1v1h-1zM490 108h1v1h-1zM491 112h1v1h-1zM492 116h1v1h-1zM494 120h1v1h-1zM495 124h1v1h-1zM496 128h1v1h-1zM497 132h1v1h-1zM499 136h1v1h-1zM500 140h1v1h-1zM501 144h1v1h-1zM503 148h1v1h-1zM504 152h1v1h-1zM506 156h1v1h-1zM507 160h1v1h-1zM509 164h1v1h-1zM510 168h1v1h-1zM512 172h1v1h-1zM513 176h1v1h-1zM515 180h1v1h-1zM516 184h1v1h-1zM518 188h1v1h-1zM519 192h1v1h-1zM521 196h1v1h-1zM523 200h1v1h-1zM524 204h1v1h-1zM526 208h1v1h-1zM528 212h1v1h-1zM530 216h1v1h-1zM531 220h1v1h-1zM533 224h1v1h-1zM535 228h1v1h-1zM537 232h1v1h-1zM539 236h1v1h-1zM540 240h1v1h-1zM542 244h1v1h-1zM544 248h1v1h-1zM546 252h1v1h-1zM548 256h1v1h-1zM550 260h1v1h-1zM552 264h1v1h-1zM554 268h1v1h-1zM556 272h1v1h-1zM558 276h1v1h-1zM560 280h1v1h-1zM562 284h1v1h-1zM565 288h1v1h-1zM567 292h1v1h-1zM569 296h1v1h-1zM571 300h1v1h-1zM573 304h1v1h-1zM575 308h1v1h-1zM578 312h1v1h-1zM580 316h1v1h-1zM582 320h1v1h-1zM585 324h1v1h-1zM587 328h1v1h-1zM589 332h1v1h-1zM592 336h1v1h-1zM594 340h1v1h-1zM597 344h1v1h-1zM599 348h1v1h-1zM602 352h1v1h-1zM604 356h1v1h-1zM607 360h1v1h-1zM609 364h1v1h-1zM612 368h1v1h-1zM614 372h1v1h-1zM617 376h1v1h-1zM620 380h1v1h-1zM622 384h1v1h-1zM625 388h1v1h-1zM628 392h1v1h-1zM631 396h1v1h-1zM633 400h1v1h-1zM636 404h1v1h-1zM639 408h1v1h-1zM642 412h1v1h-1zM645 416h1v1h-1zM648 420h1v1h-1zM651 424h1v1h-1zM654 428h1v1h-1zM657 432h1v1h-1zM660 436h1v1h-1zM663 440h1v1h-1zM666 444h1v1h-1zM669 448h1v1h-1zM672 452h1v1h-1zM675 456h1v1h-1zM678 460h1v1h-1zM681 464h1v1h-1zM685 468h1v1h-1zM688 472h1v1h-1zM691 476h1v1h-1zM694 480h1v1h-1zM698 484h1v1h-1zM701 488h1v1h-1zM704 492h1v1h-1zM708 496h1v1h-1zM711 500h1v1h-1zM715 504h1v1h-1zM718 508h1v1h-1zM722 512h1v1h-1zM725 516h1v1h-1zM729 520h1v1h-1zM732 524h1v1h-1zM736 528h1v1h-1zM740 532h1v1h-1zM743 536h1v1h-1zM747 540h1v1h-1zM751 544h1v1h-1zM755 548h1v1h-1zM758 552h1v1h-1zM762 556h1v1h-1zM766 560h1v1h-1zM770 564h1v1h-1zM774 568h1v1h-1zM778 572h1v1h-1zM782 576h1v1h-1zM786 580h1v1h-1zM790 584h1v1h-1zM794 588h1v1h-1zM798 592h1v1h-1zM802 596h1v1h-1zM521 80h1v1h-1zM522 84h1v1h-1zM523 88h1v1h-1zM525 92h1v1h-1zM526 96h1v1h-1zM527 100h1v1h-1zM529 104h1v1h-1zM530 108h1v1h-1zM531 112h1v1h-1zM533 116h1v1h-1zM534 120h1v1h-1zM536 124h1v1h-1zM537 128h1v1h-1zM539 132h1v1h-1zM540 136h1v1h-1zM541 140h1v1h-1zM543 144h1v1h-1zM545 148h1v1h-1zM546 152h1v1h-1zM548 156h1v1h-1zM549 160h1v1h-1zM551 164h1v1h-1zM553 168h1v1h-1zM554 172h1v1h-1zM556 176h1v1h-1zM558 180h1v1h-1zM559 184h1v1h-1zM561 188h1v1h-1zM563 192h1v1h-1zM565 196h1v1h-1zM567 200h1v1h-1zM568 204h1v1h-1zM570 208h1v1h-1zM572 212h1v1h-1zM574 216h1v1h-1zM576 220h1v1h-1zM578 224h1v1h-1zM580 228h1v1h-1zM582 232h1v1h-1zM584 236h1v1h-1zM586 240h1v1h-1zM588 244h1v1h-1zM590 248h1v1h-1zM592 252h1v1h-1zM594 256h1v1h-1zM596 260h1v1h-1zM599 264h1v1h-1zM601 268h1v1h-1zM603 272h1v1h-1zM605 276h1v1h-1zM607 280h1v1h-1zM610 284h1v1h-1zM612 288h1v1h-1zM614 292h1v1h-1zM617 296h1v1h-1zM619 300h1v1h-1zM621 304h1v1h-1zM624 308h1v1h-1zM626 312h1v1h-1zM629 316h1v1h-1zM631 320h1v1h-1zM634 324h1v1h-1zM636 328h1v1h-1zM639 332h1v1h-1zM641 336h1v1h-1zM644 340h1v1h-1zM647 344h1v1h-1zM649 348h1v1h-1zM652 352h1v1h-1zM655 356h1v1h-1zM657 360h1v1h-1zM660 364h1v1h-1zM663 368h1v1h-1zM666 372h1v1h-1zM669 376h1v1h-1zM671 380h1v1h-1zM674 384h1v1h-1zM677 388h1v1h-1zM680 392h1v1h-1zM683 396h1v1h-1zM686 400h1v1h-1zM689 404h1v1h-1zM692 408h1v1h-1zM695 412h1v1h-1zM698 416h1v1h-1zM701 420h1v1h-1zM704 424h1v1h-1zM708 428h1v1h-1zM711 432h1v1h-1zM714 436h1v1h-1zM717 440h1v1h-1zM720 444h1v1h-1zM724 448h1v1h-1zM727 452h1v1h-1zM730 456h1v1h-1zM734 460h1v1h-1zM737 464h1v1h-1zM741 468h1v1h-1zM744 472h1v1h-1zM748 476h1v1h-1zM751 480h1v1h-1zM755 484h1v1h-1zM758 488h1v1h-1zM762 492h1v1h-1zM765 496h1v1h-1zM769 500h1v1h-1zM773 504h1v1h-1zM776 508h1v1h-1zM780 512h1v1h-1zM784 516h1v1h-1zM788 520h1v1h-1zM791 524h1v1h-1zM795 528h1v1h-1zM799 532h1v1h-1zM803 536h1v1h-1zM560 80h1v1h-1zM561 84h1v1h-1zM563 88h1v1h-1zM564 92h1v1h-1zM566 96h1v1h-1zM567 100h1v1h-1zM569 104h1v1h-1zM570 108h1v1h-1zM572 112h1v1h-1zM573 116h1v1h-1zM575 120h1v1h-1zM576 124h1v1h-1zM578 128h1v1h-1zM580 132h1v1h-1zM581 136h1v1h-1zM583 140h1v1h-1zM585 144h1v1h-1zM586 148h1v1h-1zM588 152h1v1h-1zM590 156h1v1h-1zM592 160h1v1h-1zM593 164h1v1h-1zM595 168h1v1h-1zM597 172h1v1h-1zM599 176h1v1h-1zM601 180h1v1h-1zM603 184h1v1h-1zM604 188h1v1h-1zM606 192h1v1h-1zM608 196h1v1h-1zM610 200h1v1h-1zM612 204h1v1h-1zM614 208h1v1h-1zM616 212h1v1h-1zM618 216h1v1h-1zM621 220h1v1h-1zM623 224h1v1h-1zM625 228h1v1h-1zM627 232h1v1h-1zM629 236h1v1h-1zM631 240h1v1h-1zM634 244h1v1h-1zM636 248h1v1h-1zM638 252h1v1h-1zM640 256h1v1h-1zM643 260h1v1h-1zM645 264h1v1h-1zM647 268h1v1h-1zM650 272h1v1h-1zM652 276h1v1h-1zM655 280h1v1h-1zM657 284h1v1h-1zM659 288h1v1h-1zM662 292h1v1h-1zM665 296h1v1h-1zM667 300h1v1h-1zM670 304h1v1h-1zM672 308h1v1h-1zM675 312h1v1h-1zM677 316h1v1h-1zM680 320h1v1h-1zM683 324h1v1h-1zM686 328h1v1h-1zM688 332h1v1h-1zM691 336h1v1h-1zM694 340h1v1h-1zM697 344h1v1h-1zM700 348h1v1h-1zM702 352h1v1h-1zM705 356h1v1h-1zM708 360h1v1h-1zM711 364h1v1h-1zM714 368h1v1h-1zM717 372h1v1h-1zM720 376h1v1h-1zM723 380h1v1h-1zM726 384h1v1h-1zM729 388h1v1h-1zM732 392h1v1h-1zM736 396h1v1h-1zM739 400h1v1h-1zM742 404h1v1h-1zM745 408h1v1h-1zM748 412h1v1h-1zM752 416h1v1h-1zM755 420h1v1h-1zM758 424h1v1h-1zM762 428h1v1h-1zM765 432h1v1h-1zM768 436h1v1h-1zM772 440h1v1h-1zM775 444h1v1h-1zM779 448h1v1h-1zM782 452h1v1h-1zM786 456h1v1h-1zM789 460h1v1h-1zM793 464h1v1h-1zM797 468h1v1h-1zM800 472h1v1h-1zM599 80h1v1h-1zM601 84h1v1h-1zM602 88h1v1h-1zM604 92h1v1h-1zM606 96h1v1h-1zM607 100h1v1h-1zM609 104h1v1h-1zM610 108h1v1h-1zM612 112h1v1h-1zM614 116h1v1h-1zM615 120h1v1h-1zM617 124h1v1h-1zM619 128h1v1h-1zM621 132h1v1h-1zM622 136h1v1h-1zM624 140h1v1h-1zM626 144h1v1h-1zM628 148h1v1h-1zM630 152h1v1h-1zM632 156h1v1h-1zM634 160h1v1h-1zM636 164h1v1h-1zM638 168h1v1h-1zM640 172h1v1h-1zM642 176h1v1h-1zM644 180h1v1h-1zM646 184h1v1h-1zM648 188h1v1h-1zM650 192h1v1h-1zM652 196h1v1h-1zM654 200h1v1h-1zM656 204h1v1h-1zM658 208h1v1h-1zM661 212h1v1h-1zM663 216h1v1h-1zM665 220h1v1h-1zM667 224h1v1h-1zM670 228h1v1h-1zM672 232h1v1h-1zM674 236h1v1h-1zM677 240h1v1h-1zM679 244h1v1h-1zM682 248h1v1h-1zM684 252h1v1h-1zM686 256h1v1h-1zM689 260h1v1h-1zM691 264h1v1h-1zM694 268h1v1h-1zM697 272h1v1h-1zM699 276h1v1h-1zM702 280h1v1h-1zM704 284h1v1h-1zM707 288h1v1h-1zM710 292h1v1h-1zM712 296h1v1h-1zM715 300h1v1h-1zM718 304h1v1h-1zM721 308h1v1h-1zM723 312h1v1h-1zM726 316h1v1h-1zM729 320h1v1h-1zM732 324h1v1h-1zM735 328h1v1h-1zM738 332h1v1h-1zM741 336h1v1h-1zM744 340h1v1h-1zM747 344h1v1h-1zM750 348h1v1h-1zM753 352h1v1h-1zM756 356h1v1h-1zM759 360h1v1h-1zM762 364h1v1h-1zM765 368h1v1h-1zM768 372h1v1h-1zM772 376h1v1h-1zM775 380h1v1h-1zM778 384h1v1h-1zM781 388h1v1h-1zM785 392h1v1h-1zM788 396h1v1h-1zM791 400h1v1h-1zM795 404h1v1h-1zM798 408h1v1h-1zM802 412h1v1h-1zM638 80h1v1h-1zM640 84h1v1h-1zM642 88h1v1h-1zM644 92h1v1h-1zM645 96h1v1h-1zM647 100h1v1h-1zM649 104h1v1h-1zM651 108h1v1h-1zM652 112h1v1h-1zM654 116h1v1h-1zM656 120h1v1h-1zM658 124h1v1h-1zM660 128h1v1h-1zM662 132h1v1h-1zM664 136h1v1h-1zM666 140h1v1h-1zM668 144h1v1h-1zM670 148h1v1h-1zM672 152h1v1h-1zM674 156h1v1h-1zM676 160h1v1h-1zM678 164h1v1h-1zM680 168h1v1h-1zM682 172h1v1h-1zM684 176h1v1h-1zM687 180h1v1h-1zM689 184h1v1h-1zM691 188h1v1h-1zM693 192h1v1h-1zM696 196h1v1h-1zM698 200h1v1h-1zM700 204h1v1h-1zM703 208h1v1h-1zM705 212h1v1h-1zM707 216h1v1h-1zM710 220h1v1h-1zM712 224h1v1h-1zM715 228h1v1h-1zM717 232h1v1h-1zM720 236h1v1h-1zM722 240h1v1h-1zM725 244h1v1h-1zM727 248h1v1h-1zM730 252h1v1h-1zM733 256h1v1h-1zM735 260h1v1h-1zM738 264h1v1h-1zM741 268h1v1h-1zM743 272h1v1h-1zM746 276h1v1h-1zM749 280h1v1h-1zM752 284h1v1h-1zM754 288h1v1h-1zM757 292h1v1h-1zM760 296h1v1h-1zM763 300h1v1h-1zM766 304h1v1h-1zM769 308h1v1h-1zM772 312h1v1h-1zM775 316h1v1h-1zM778 320h1v1h-1zM781 324h1v1h-1zM784 328h1v1h-1zM787 332h1v1h-1zM790 336h1v1h-1zM793 340h1v1h-1zM797 344h1v1h-1zM800 348h1v1h-1zM803 352h1v1h-1zM678 80h1v1h-1zM679 84h1v1h-1zM681 88h1v1h-1zM683 92h1v1h-1zM685 96h1v1h-1zM687 100h1v1h-1zM689 104h1v1h-1zM691 108h1v1h-1zM693 112h1v1h-1zM695 116h1v1h-1zM697 120h1v1h-1zM699 124h1v1h-1zM701 128h1v1h-1zM703 132h1v1h-1zM705 136h1v1h-1zM707 140h1v1h-1zM709 144h1v1h-1zM711 148h1v1h-1zM714 152h1v1h-1zM716 156h1v1h-1zM718 160h1v1h-1zM720 164h1v1h-1zM723 168h1v1h-1zM725 172h1v1h-1zM727 176h1v1h-1zM730 180h1v1h-1zM732 184h1v1h-1zM734 188h1v1h-1zM737 192h1v1h-1zM739 196h1v1h-1zM742 200h1v1h-1zM744 204h1v1h-1zM747 208h1v1h-1zM749 212h1v1h-1zM752 216h1v1h-1zM754 220h1v1h-1zM757 224h1v1h-1zM760 228h1v1h-1zM762 232h1v1h-1zM765 236h1v1h-1zM768 240h1v1h-1zM770 244h1v1h-1zM773 248h1v1h-1zM776 252h1v1h-1zM779 256h1v1h-1zM781 260h1v1h-1zM784 264h1v1h-1zM787 268h1v1h-1zM790 272h1v1h-1zM793 276h1v1h-1zM796 280h1v1h-1zM799 284h1v1h-1zM802 288h1v1h-1zM717 80h1v1h-1zM719 84h1v1h-1zM721 88h1v1h-1zM723 92h1v1h-1zM725 96h1v1h-1zM727 100h1v1h-1zM729 104h1v1h-1zM731 108h1v1h-1zM733 112h1v1h-1zM735 116h1v1h-1zM737 120h1v1h-1zM740 124h1v1h-1zM742 128h1v1h-1zM744 132h1v1h-1zM746 136h1v1h-1zM749 140h1v1h-1zM751 144h1v1h-1zM753 148h1v1h-1zM755 152h1v1h-1zM758 156h1v1h-1zM760 160h1v1h-1zM763 164h1v1h-1zM765 168h1v1h-1zM768 172h1v1h-1zM770 176h1v1h-1zM773 180h1v1h-1zM775 184h1v1h-1zM778 188h1v1h-1zM780 192h1v1h-1zM783 196h1v1h-1zM785 200h1v1h-1zM788 204h1v1h-1zM791 208h1v1h-1zM793 212h1v1h-1zM796 216h1v1h-1zM799 220h1v1h-1zM802 224h1v1h-1zM756 80h1v1h-1zM758 84h1v1h-1zM760 88h1v1h-1zM762 92h1v1h-1zM765 96h1v1h-1zM767 100h1v1h-1zM769 104h1v1h-1zM771 108h1v1h-1zM773 112h1v1h-1zM776 116h1v1h-1zM778 120h1v1h-1zM780 124h1v1h-1zM783 128h1v1h-1zM785 132h1v1h-1zM788 136h1v1h-1zM790 140h1v1h-1zM792 144h1v1h-1zM795 148h1v1h-1zM797 152h1v1h-1zM800 156h1v1h-1zM802 160h1v1h-1zM795 80h1v1h-1zM797 84h1v1h-1zM800 88h1v1h-1zM802 92h1v1h-1z" fill="#008000"/>
<path d="M216 680h1v1h-1zM218 684h1v1h-1zM220 688h1v1h-1zM222 692h1v1h-1zM224 696h1v1h-1zM226 700h1v1h-1zM228 704h1v1h-1zM230 708h1v1h-1zM232 712h1v1h-1zM234 716h1v1h-1zM236 720h1v1h-1zM237 724h1v1h-1zM217 528h1v1h-1zM219 532h1v1h-1zM220 536h1v1h-1zM222 540h1v1h-1zM224 544h1v1h-1zM225 548h1v1h-1zM227 552h1v1h-1zM229 556h1v1h-1zM230 560h1v1h-1zM232 564h1v1h-1zM234 568h1v1h-1zM236 572h1v1h-1zM237 576h1v1h-1zM239 580h1v1h-1zM241 584h1v1h-1zM243 588h1v1h-1zM245 592h1v1h-1zM247 596h1v1h-1zM248 600h1v1h-1zM250 604h1v1h-1zM252 608h1v1h-1zM254 612h1v1h-1zM256 616h1v1h-1zM258 620h1v1h-1zM260 624h1v1h-1zM262 628h1v1h-1zM263 632h1v1h-1zM265 636h1v1h-1zM267 640h1v1h-1zM269 644h1v1h-1zM271 648h1v1h-1zM273 652h1v1h-1zM275 656h1v1h-1zM277 660h1v1h-1zM279 664h1v1h-1zM281 668h1v1h-1zM283 672h1v1h-1zM285 676h1v1h-1zM287 680h1v1h-1zM288 684h1v1h-1zM290 688h1v1h-1zM292 692h1v1h-1zM294 696h1v1h-1zM296 700h1v1h-1zM298 704h1v1h-1zM300 708h1v1h-1zM302 712h1v1h-1zM303 716h1v1h-1zM305 720h1v1h-1zM307 724h1v1h-1zM216 320h1v1h-1zM217 324h1v1h-1zM218 328h1v1h-1zM219 332h1v1h-1zM220 336h1v1h-1zM221 340h1v1h-1zM222 344h1v1h-1zM223 348h1v1h-1zM224 352h1v1h-1zM225 356h1v1h-1zM226 360h1v1h-1zM228 364h1v1h-1zM229 368h1v1h-1zM230 372h1v1h-1zM231 376h1v1h-1zM232 380h1v1h-1zM234 384h1v1h-1zM235 388h1v1h-1zM236 392h1v1h-1zM237 396h1v1h-1zM239 400h1v1h-1zM240 404h1v1h-1zM241 408h1v1h-1zM243 412h1v1h-1zM244 416h1v1h-1zM245 420h1v1h-1zM247 424h1v1h-1zM248 428h1v1h-1zM250 432h1v1h-1zM251 436h1v1h-1zM252 440h1v1h-1zM254 444h1v1h-1zM255 448h1v1h-1zM257 452h1v1h-1zM258 456h1v1h-1zM260 460h1v1h-1zM262 464h1v1h-1zM263 468h1v1h-1zM265 472h1v1h-1zM266 476h1v1h-1zM268 480h1v1h-1zM270 484h1v1h-1zM271 488h1v1h-1zM273 492h1v1h-1zM274 496h1v1h-1zM276 500h1v1h-1zM278 504h1v1h-1zM280 508h1v1h-1zM281 512h1v1h-1zM283 516h1v1h-1zM285 520h1v1h-1zM287 524h1v1h-1zM288 528h1v1h-1zM290 532h1v1h-1zM292 536h1v1h-1zM294 540h1v1h-1zM296 544h1v1h-1zM297 548h1v1h-1zM299 552h1v1h-1zM301 556h1v1h-1zM303 560h1v1h-1zM305 564h1v1h-1zM307 568h1v1h-1zM308 572h1v1h-1zM310 576h1v1h-1zM312 580h1v1h-1zM314 584h1v1h-1zM316 588h1v1h-1zM318 592h1v1h-1zM320 596h1v1h-1zM322 600h1v1h-1zM323 604h1v1h-1zM325 608h1v1h-1zM327 612h1v1h-1zM329 616h1v1h-1zM331 620h1v1h-1zM333 624h1v1h-1zM335 628h1v1h-1zM337 632h1v1h-1zM339 636h1v1h-1zM340 640h1v1h-1zM342 644h1v1h-1zM344 648h1v1h-1zM346 652h1v1h-1zM348 656h1v1h-1zM349 660h1v1h-1zM351 664h1v1h-1zM353 668h1v1h-1zM355 672h1v1h-1zM357 676h1v1h-1zM358 680h1v1h-1zM360 684h1v1h-1zM362 688h1v1h-1zM363 692h1v1h-1zM365 696h1v1h-1zM367 700h1v1h-1zM368 704h1v1h-1zM370 708h1v1h-1zM371 712h1v1h-1zM373 716h1v1h-1zM374 720h1v1h-1zM376 724h1v1h-1zM249 80h1v1h-1zM249 84h1v1h-1zM249 88h1v1h-1zM250 92h1v1h-1zM250 96h1v1h-1zM250 100h1v1h-1zM250 104h1v1h-1zM251 108h1v1h-1zM251 112h1v1h-1zM251 116h1v1h-1zM252 120h1v1h-1zM252 124h1v1h-1zM252 128h1v1h-1zM253 132h1v1h-1zM253 136h1v1h-1zM254 140h1v1h-1zM254 144h1v1h-1zM255 148h1v1h-1zM255 152h1v1h-1zM256 156h1v1h-1zM256 160h1v1h-1zM257 164h1v1h-1zM257 168h1v1h-1zM258 172h1v1h-1zM258 176h1v1h-1zM259 180h1v1h-1zM260 184h1v1h-1zM260 188h1v1h-1zM261 192h1v1h-1zM262 196h1v1h-1zM262 200h1v1h-1zM263 204h1v1h-1zM264 208h1v1h-1zM264 212h1v1h-1zM265 216h1v1h-1zM266 220h1v1h-1zM267 224h1v1h-1zM268 228h1v1h-1zM268 232h1v1h-1zM269 236h1v1h-1zM270 240h1v1h-1zM271 244h1v1h-1zM272 248h1v1h-1zM273 252h1v1h-1zM274 256h1v1h-1zM275 260h1v1h-1zM276 264h1v1h-1zM277 268h1v1h-1zM278 272h1v1h-1zM279 276h1v1h-1zM280 280h1v1h-1zM281 284h1v1h-1zM282 288h1v1h-1zM283 292h1v1h-1zM284 296h1v1h-1zM285 300h1v1h-1zM286 304h1v1h-1zM287 308h1v1h-1zM288 312h1v1h-1zM290 316h1v1h-1zM291 320h1v1h-1zM292 324h1v1h-1zM293 328h1v1h-1zM294 332h1v1h-1zM296 336h1v1h-1zM297 340h1v1h-1zM298 344h1v1h-1zM300 348h1v1h-1zM301 352h1v1h-1zM302 356h1v1h-1zM304 360h1v1h-1zM305 364h1v1h-1zM306 368h1v1h-1zM308 372h1v1h-1zM309 376h1v1h-1zM311 380h1v1h-1zM312 384h1v1h-1zM314 388h1v1h-1zM315 392h1v1h-1zM317 396h1v1h-1zM318 400h1v1h-1zM320 404h1v1h-1zM321 408h1v1h-1zM323 412h1v1h-1zM324 416h1v1h-1zM326 420h1v1h-1zM328 424h1v1h-1zM329 428h1v1h-1zM331 432h1v1h-1zM333 436h1v1h-1zM334 440h1v1h-1zM336 444h1v1h-1zM338 448h1v1h-1zM339 452h1v1h-1zM341 456h1v1h-1zM343 460h1v1h-1zM344 464h1v1h-1zM346 468h1v1h-1zM348 472h1v1h-1zM349 476h1v1h-1zM351 480h1v1h-1zM353 484h1v1h-1zM355 488h1v1h-1zM356 492h1v1h-1zM358 496h1v1h-1zM360 500h1v1h-1zM362 504h1v1h-1zM364 508h1v1h-1zM365 512h1v1h-1zM367 516h1v1h-1zM369 520h1v1h-1zM371 524h1v1h-1zM372 528h1v1h-1zM374 532h1v1h-1zM376 536h1v1h-1zM378 540h1v1h-1zM380 544h1v1h-1zM381 548h1v1h-1zM383 552h1v1h-1zM385 556h1v1h-1zM387 560h1v1h-1zM389 564h1v1h-1zM390 568h1v1h-1zM392 572h1v1h-1zM394 576h1v1h-1zM395 580h1v1h-1zM397 584h1v1h-1zM399 588h1v1h-1zM401 592h1v1h-1zM402 596h1v1h-1zM404 600h1v1h-1zM405 604h1v1h-1zM407 608h1v1h-1zM409 612h1v1h-1zM410 616h1v1h-1zM412 620h1v1h-1zM413 624h1v1h-1zM415 628h1v1h-1zM416 632h1v1h-1zM418 636h1v1h-1zM419 640h1v1h-1zM421 644h1v1h-1zM422 648h1v1h-1zM423 652h1v1h-1zM425 656h1v1h-1zM426 660h1v1h-1zM427 664h1v1h-1zM429 668h1v1h-1zM430 672h1v1h-1zM431 676h1v1h-1zM432 680h1v1h-1zM433 684h1v1h-1zM434 688h1v1h-1zM436 692h1v1h-1zM437 696h1v1h-1zM438 700h1v1h-1zM439 704h1v1h-1zM440 708h1v1h-1zM441 712h1v1h-1zM441 716h1v1h-1zM442 720h1v1h-1zM443 724h1v1h-1zM334 80h1v1h-1zM335 84h1v1h-1zM336 88h1v1h-1zM336 92h1v1h-1zM337 96h1v1h-1zM337 100h1v1h-1zM338 104h1v1h-1zM339 108h1v1h-1zM339 112h1v1h-1zM340 116h1v1h-1zM341 120h1v1h-1zM341 124h1v1h-1zM342 128h1v1h-1zM343 132h1v1h-1zM344 136h1v1h-1zM344 140h1v1h-1zM345 144h1v1h-1zM346 148h1v1h-1zM347 152h1v1h-1zM348 156h1v1h-1zM348 160h1v1h-1zM349 164h1v1h-1zM350 168h1v1h-1zM351 172h1v1h-1zM352 176h1v1h-1zM353 180h1v1h-1zM354 184h1v1h-1zM355 188h1v1h-1zM356 192h1v1h-1zM357 196h1v1h-1zM358 200h1v1h-1zM359 204h1v1h-1zM360 208h1v1h-1zM361 212h1v1h-1zM362 216h1v1h-1zM363 220h1v1h-1zM364 224h1v1h-1zM366 228h1v1h-1zM367 232h1v1h-1zM368 236h1v1h-1zM369 240h1v1h-1zM370 244h1v1h-1zM372 248h1v1h-1zM373 252h1v1h-1zM374 256h1v1h-1zM375 260h1v1h-1zM377 264h1v1h-1zM378 268h1v1h-1zM379 272h1v1h-1zM381 276h1v1h-1zM382 280h1v1h-1zM383 284h1v1h-1zM385 288h1v1h-1zM386 292h1v1h-1zM387 296h1v1h-1zM389 300h1v1h-1zM390 304h1v1h-1zM392 308h1v1h-1zM393 312h1v1h-1zM395 316h1v1h-1zM396 320h1v1h-1zM398 324h1v1h-1zM399 328h1v1h-1zM401 332h1v1h-1zM402 336h1v1h-1zM404 340h1v1h-1zM405 344h1v1h-1zM407 348h1v1h-1zM408 352h1v1h-1zM410 356h1v1h-1zM412 360h1v1h-1zM413 364h1v1h-1zM415 368h1v1h-1zM416 372h1v1h-1zM418 376h1v1h-1zM420 380h1v1h-1zM421 384h1v1h-1zM423 388h1v1h-1zM424 392h1v1h-1zM426 396h1v1h-1zM428 400h1v1h-1zM429 404h1v1h-1zM431 408h1v1h-1zM433 412h1v1h-1zM434 416h1v1h-1zM436 420h1v1h-1zM438 424h1v1h-1zM439 428h1v1h-1zM441 432h1v1h-1zM443 436h1v1h-1zM444 440h1v1h-1zM446 444h1v1h-1zM448 448h1v1h-1zM449 452h1v1h-1zM451 456h1v1h-1zM452 460h1v1h-1zM454 464h1v1h-1zM456 468h1v1h-1zM457 472h1v1h-1zM459 476h1v1h-1zM460 480h1v1h-1zM462 484h1v1h-1zM463 488h1v1h-1zM465 492h1v1h-1zM466 496h1v1h-1zM468 500h1v1h-1zM469 504h1v1h-1zM471 508h1v1h-1zM472 512h1v1h-1zM474 516h1v1h-1zM475 520h1v1h-1zM476 524h1v1h-1zM478 528h1v1h-1zM479 532h1v1h-1zM480 536h1v1h-1zM482 540h1v1h-1zM483 544h1v1h-1zM484 548h1v1h-1zM485 552h1v1h-1zM486 556h1v1h-1zM488 560h1v1h-1zM489 564h1v1h-1zM490 568h1v1h-1zM491 572h1v1h-1zM492 576h1v1h-1zM493 580h1v1h-1zM494 584h1v1h-1zM495 588h1v1h-1zM496 592h1v1h-1zM496 596h1v1h-1zM497 600h1v1h-1zM498 604h1v1h-1zM499 608h1v1h-1zM500 612h1v1h-1zM500 616h1v1h-1zM501 620h1v1h-1zM502 624h1v1h-1zM502 628h1v1h-1zM503 632h1v1h-1zM503 636h1v1h-1zM504 640h1v1h-1zM504 644h1v1h-1zM505 648h1v1h-1zM505 652h1v1h-1zM506 656h1v1h-1zM506 660h1v1h-1zM507 664h1v1h-1zM507 668h1v1h-1zM507 672h1v1h-1zM508 676h1v1h-1zM508 680h1v1h-1zM508 684h1v1h-1zM508 688h1v1h-1zM509 692h1v1h-1zM509 696h1v1h-1zM509 700h1v1h-1zM509 704h1v1h-1zM510 708h1v1h-1zM510 712h1v1h-1zM510 716h1v1h-1zM510 720h1v1h-1zM510 724h1v1h-1zM460 80h1v1h-1zM461 84h1v1h-1zM462 88h1v1h-1zM463 92h1v1h-1zM464 96h1v1h-1zM465 100h1v1h-1zM466 104h1v1h-1zM467 108h1v1h-1zM468 112h1v1h-1zM470 116h1v1h-1zM471 120h1v1h-1zM472 124h1v1h-1zM473 128h1v1h-1zM474 132h1v1h-1zM475 136h1v1h-1zM477 140h1v1h-1zM478 144h1v1h-1zM479 148h1v1h-1zM480 152h1v1h-1zM482 156h1v1h-1zM483 160h1v1h-1zM484 164h1v1h-1zM485 168h1v1h-1zM487 172h1v1h-1zM488 176h1v1h-1zM489 180h1v1h-1zM491 184h1v1h-1zM492 188h1v1h-1zM494 192h1v1h-1zM495 196h1v1h-1zM496 200h1v1h-1zM498 204h1v1h-1zM499 208h1v1h-1zM501 212h1v1h-1zM502 216h1v1h-1zM504 220h1v1h-1zM505 224h1v1h-1zM507 228h1v1h-1zM508 232h1v1h-1zM510 236h1v1h-1zM511 240h1v1h-1zM513 244h1v1h-1zM514 248h1v1h-1zM516 252h1v1h-1zM517 256h1v1h-1zM519 260h1v1h-1zM520 264h1v1h-1zM522 268h1v1h-1zM523 272h1v1h-1zM525 276h1v1h-1zM526 280h1v1h-1zM528 284h1v1h-1zM529 288h1v1h-1zM531 292h1v1h-1zM532 296h1v1h-1zM534 300h1v1h-1zM535 304h1v1h-1zM537 308h1v1h-1zM539 312h1v1h-1zM540 316h1v1h-1zM542 320h1v1h-1zM543 324h1v1h-1zM545 328h1v1h-1zM546 332h1v1h-1zM548 336h1v1h-1zM549 340h1v1h-1zM550 344h1v1h-1zM552 348h1v1h-1zM553 352h1v1h-1zM555 356h1v1h-1zM556 360h1v1h-1zM558 364h1v1h-1zM559 368h1v1h-1zM560 372h1v1h-1zM562 376h1v1h-1zM563 380h1v1h-1zM564 384h1v1h-1zM565 388h1v1h-1zM567 392h1v1h-1zM568 396h1v1h-1zM569 400h1v1h-1zM570 404h1v1h-1zM571 408h1v1h-1zM573 412h1v1h-1zM574 416h1v1h-1zM575 420h1v1h-1zM576 424h1v1h-1zM577 428h1v1h-1zM578 432h1v1h-1zM579 436h1v1h-1zM580 440h1v1h-1zM581 444h1v1h-1zM581 448h1v1h-1zM582 452h1v1h-1zM583 456h1v1h-1zM584 460h1v1h-1zM584 464h1v1h-1zM585 468h1v1h-1zM586 472h1v1h-1zM586 476h1v1h-1zM587 480h1v1h-1zM587 484h1v1h-1zM588 488h1v1h-1zM588 492h1v1h-1zM589 496h1v1h-1zM589 500h1v1h-1zM590 504h1v1h-1zM590 508h1v1h-1zM590 512h1v1h-1zM591 516h1v1h-1zM591 520h1v1h-1zM591 524h1v1h-1zM591 528h1v1h-1zM591 532h1v1h-1zM591 536h1v1h-1zM591 540h1v1h-1zM591 544h1v1h-1zM592 548h1v1h-1zM591 552h1v1h-1zM591 556h1v1h-1zM591 560h1v1h-1zM591 564h1v1h-1zM591 568h1v1h-1zM591 572h1v1h-1zM591 576h1v1h-1zM591 580h1v1h-1zM591 584h1v1h-1zM590 588h1v1h-1zM590 592h1v1h-1zM590 596h1v1h-1zM590 600h1v1h-1zM589 604h1v1h-1zM589 608h1v1h-1zM589 612h1v1h-1zM588 616h1v1h-1zM588 620h1v1h-1zM588 624h1v1h-1zM587 628h1v1h-1zM587 632h1v1h-1zM586 636h1v1h-1zM586 640h1v1h-1zM586 644h1v1h-1zM585 648h1v1h-1zM585 652h1v1h-1zM584 656h1v1h-1zM584 660h1v1h-1zM584 664h1v1h-1zM583 668h1v1h-1zM583 672h1v1h-1zM582 676h1v1h-1zM582 680h1v1h-1zM582 684h1v1h-1zM581 688h1v1h-1zM581 692h1v1h-1zM581 696h1v1h-1zM580 700h1v1h-1zM580 704h1v1h-1zM579 708h1v1h-1zM579 712h1v1h-1zM579 716h1v1h-1zM578 720h1v1h-1zM578 724h1v1h-1zM649 80h1v1h-1zM650 84h1v1h-1zM652 88h1v1h-1zM653 92h1v1h-1zM654 96h1v1h-1zM656 100h1v1h-1zM657 104h1v1h-1zM659 108h1v1h-1zM660 112h1v1h-1zM661 116h1v1h-1zM663 120h1v1h-1zM664 124h1v1h-1zM665 128h1v1h-1zM667 132h1v1h-1zM668 136h1v1h-1zM670 140h1v1h-1zM671 144h1v1h-1zM672 148h1v1h-1zM674 152h1v1h-1zM675 156h1v1h-1zM676 160h1v1h-1zM678 164h1v1h-1zM679 168h1v1h-1zM680 172h1v1h-1zM681 176h1v1h-1zM683 180h1v1h-1zM684 184h1v1h-1zM685 188h1v1h-1zM686 192h1v1h-1zM687 196h1v1h-1zM689 200h1v1h-1zM690 204h1v1h-1zM691 208h1v1h-1zM692 212h1v1h-1zM693 216h1v1h-1zM694 220h1v1h-1zM695 224h1v1h-1zM696 228h1v1h-1zM697 232h1v1h-1zM698 236h1v1h-1zM699 240h1v1h-1zM700 244h1v1h-1zM701 248h1v1h-1zM702 252h1v1h-1zM703 256h1v1h-1zM703 260h1v1h-1zM704 264h1v1h-1zM705 268h1v1h-1zM706 272h1v1h-1zM706 276h1v1h-1zM707 280h1v1h-1zM708 284h1v1h-1zM708 288h1v1h-1zM709 292h1v1h-1zM709 296h1v1h-1zM710 300h1v1h-1zM710 304h1v1h-1zM710 308h1v1h-1zM711 312h1v1h-1zM711 316h1v1h-1zM712 320h1v1h-1zM712 324h1v1h-1zM712 328h1v1h-1zM712 332h1v1h-1zM712 336h1v1h-1zM713 340h1v1h-1zM713 344h1v1h-1zM713 348h1v1h-1zM713 352h1v1h-1zM713 356h1v1h-1zM713 360h1v1h-1zM713 364h1v1h-1zM713 368h1v1h-1zM713 372h1v1h-1zM712 376h1v1h-1zM712 380h1v1h-1zM712 384h1v1h-1zM712 388h1v1h-1zM712 392h1v1h-1zM711 396h1v1h-1zM711 400h1v1h-1zM711 404h1v1h-1zM710 408h1v1h-1zM710 412h1v1h-1zM710 416h1v1h-1zM709 420h1v1h-1zM709 424h1v1h-1zM708 428h1v1h-1zM708 432h1v1h-1zM707 436h1v1h-1zM707 440h1v1h-1zM706 444h1v1h-1zM705 448h1v1h-1zM705 452h1v1h-1zM704 456h1v1h-1zM703 460h1v1h-1zM703 464h1v1h-1zM702 468h1v1h-1zM701 472h1v1h-1zM701 476h1v1h-1zM700 480h1v1h-1zM699 484h1v1h-1zM698 488h1v1h-1zM698 492h1v1h-1zM697 496h1v1h-1zM696 500h1v1h-1zM695 504h1v1h-1zM694 508h1v1h-1zM694 512h1v1h-1zM693 516h1v1h-1zM692 520h1v1h-1zM691 524h1v1h-1zM690 528h1v1h-1zM689 532h1v1h-1zM688 536h1v1h-1zM688 540h1v1h-1zM687 544h1v1h-1zM686 548h1v1h-1zM685 552h1v1h-1zM684 556h1v1h-1zM683 560h1v1h-1zM682 564h1v1h-1zM681 568h1v1h-1zM680 572h1v1h-1zM679 576h1v1h-1zM678 580h1v1h-1zM677 584h1v1h-1zM676 588h1v1h-1zM676 592h1v1h-1zM675 596h1v1h-1zM674 600h1v1h-1zM673 604h1v1h-1zM672 608h1v1h-1zM671 612h1v1h-1zM670 616h1v1h-1zM669 620h1v1h-1zM668 624h1v1h-1zM667 628h1v1h-1zM666 632h1v1h-1zM665 636h1v1h-1zM664 640h1v1h-1zM664 644h1v1h-1zM663 648h1v1h-1zM662 652h1v1h-1zM661 656h1v1h-1zM660 660h1v1h-1zM659 664h1v1h-1zM658 668h1v1h-1zM657 672h1v1h-1zM656 676h1v1h-1zM655 680h1v1h-1zM655 684h1v1h-1zM654 688h1v1h-1zM653 692h1v1h-1zM652 696h1v1h-1zM651 700h1v1h-1zM650 704h1v1h-1zM649 708h1v1h-1zM649 712h1v1h-1zM648 716h1v1h-1zM647 720h1v1h-1zM646 724h1v1h-1zM802 460h1v1h-1zM801 464h1v1h-1zM799 468h1v1h-1zM798 472h1v1h-1zM796 476h1v1h-1zM795 480h1v1h-1zM793 484h1v1h-1zM792 488h1v1h-1zM790 492h1v1h-1zM789 496h1v1h-1zM787 500h1v1h-1zM786 504h1v1h-1zM785 508h1v1h-1zM783 512h1v1h-1zM782 516h1v1h-1zM780 520h1v1h-1zM779 524h1v1h-1zM778 528h1v1h-1zM776 532h1v1h-1zM775 536h1v1h-1zM773 540h1v1h-1zM772 544h1v1h-1zM771 548h1v1h-1zM769 552h1v1h-1zM768 556h1v1h-1zM766 560h1v1h-1zM765 564h1v1h-1zM764 568h1v1h-1zM762 572h1v1h-1zM761 576h1v1h-1zM760 580h1v1h-1zM758 584h1v1h-1zM757 588h1v1h-1zM756 592h1v1h-1zM754 596h1v1h-1zM753 600h1v1h-1zM752 604h1v1h-1zM750 608h1v1h-1zM749 612h1v1h-1zM748 616h1v1h-1zM746 620h1v1h-1zM745 624h1v1h-1zM744 628h1v1h-1zM742 632h1v1h-1zM741 636h1v1h-1zM740 640h1v1h-1zM739 644h1v1h-1zM737 648h1v1h-1zM736 652h1v1h-1zM735 656h1v1h-1zM734 660h1v1h-1zM732 664h1v1h-1zM731 668h1v1h-1zM730 672h1v1h-1zM729 676h1v1h-1zM728 680h1v1h-1zM726 684h1v1h-1zM725 688h1v1h-1zM724 692h1v1h-1zM723 696h1v1h-1zM722 700h1v1h-1zM721 704h1v1h-1zM719 708h1v1h-1zM718 712h1v1h-1zM717 716h1v1h-1zM716 720h1v1h-1zM715 724h1v1h-1zM803 668h1v1h-1zM802 672h1v1h-1zM800 676h1v1h-1zM799 680h1v1h-1zM798 684h1v1h-1zM796 688h1v1h-1zM795 692h1v1h-1zM793 696h1v1h-1zM792 700h1v1h-1zM791 704h1v1h-1zM789 708h1v1h-1zM788 712h1v1h-1zM787 716h1v1h-1zM785 720h1v1h-1zM784 724h1v1h-1z" fill="#ff0000"/>
<path d="M215 211.5H804M215 336.5H804M215 425.5H804M215 494.5H804M215 550.5H804M215 598.5H804M215 639.5H804M215 675.5H804M215 708.5H804" stroke="#808080" fill="none"/>
<path clip-path="url(#cp)" shape-rendering="crispEdges" d="M237.73 721L238.73 721L233.64 728L232.64 728ZM245.73 710L246.73 710L241.63 717L240.63 717ZM253.74 699L254.74 699L249.64 706L248.64 706ZM261.76 688L262.76 688L257.66 695L256.66 695ZM269.79 677L270.79 677L265.68 684L264.68 684ZM277.83 666L278.83 666L273.72 673L272.72 673ZM285.88 655L286.88 655L281.76 662L280.76 662ZM293.94 644L294.94 644L289.81 651L288.81 651ZM302.01 633L303.01 633L297.87 640L296.87 640ZM310.09 622L311.09 622L305.95 629L304.95 629ZM318.17 611L319.17 611L314.03 618L313.03 618ZM326.27 600L327.27 600L322.12 607L321.12 607ZM334.37 589L335.37 589L330.21 596L329.21 596ZM342.49 578L343.49 578L338.32 585L337.32 585ZM350.61 567L351.61 567L346.44 574L345.44 574ZM358.74 556L359.74 556L354.56 563L353.56 563ZM366.88 545L367.88 545L362.70 552L361.70 552ZM375.03 534L376.03 534L370.84 541L369.84 541ZM383.18 523L384.18 523L378.99 530L377.99 530ZM391.35 512L392.35 512L387.15 519L386.15 519ZM399.52 501L400.52 501L395.32 508L394.32 508ZM407.71 490L408.71 490L403.50 497L402.50 497ZM415.90 479L416.90 479L411.68 486L410.68 486ZM424.10 468L425.10 468L419.88 475L418.88 475ZM432.30 457L433.30 457L428.08 464L427.08 464ZM440.52 446L441.52 446L436.29 453L435.29 453ZM448.74 435L449.74 435L444.51 442L443.51 442ZM456.98 424L457.98 424L452.74 431L451.74 431ZM465.22 413L466.22 413L460.97 420L459.97 420ZM473.47 402L474.47 402L469.22 409L468.22 409ZM481.72 391L482.72 391L477.47 398L476.47 398ZM489.99 380L490.99 380L485.73 387L484.73 387ZM498.26 369L499.26 369L494.00 376L493.00 376ZM506.54 358L507.54 358L502.27 365L501.27 365ZM514.83 347L515.83 347L510.55 354L509.55 354ZM522.37 337L523.37 337L518.85 343L517.85 343ZM310.72 721L311.72 721L306.80 728L305.80 728ZM318.45 710L319.45 710L314.53 717L313.53 717ZM326.20 699L327.20 699L322.27 706L321.27 706ZM333.96 688L334.96 688L330.02 695L329.02 695ZM341.73 677L342.73 677L337.78 684L336.78 684ZM349.51 666L350.51 666L345.56 673L344.56 673ZM357.30 655L358.30 655L353.34 662L352.34 662ZM365.10 644L366.10 644L361.14 651L360.14 651ZM372.92 633L373.92 633L368.94 640L367.94 640ZM380.74 622L381.74 622L376.76 629L375.76 629ZM388.58 611L389.58 611L384.59 618L383.59 618ZM396.42 600L397.42 600L392.43 607L391.43 607ZM404.28 589L405.28 589L400.28 596L399.28 596ZM412.14 578L413.14 578L408.14 585L407.14 585ZM420.02 567L421.02 567L416.01 574L415.01 574ZM427.91 556L428.91 556L423.89 563L422.89 563ZM435.80 545L436.80 545L431.78 552L430.78 552ZM443.71 534L444.71 534L439.68 541L438.68 541ZM451.63 523L452.63 523L447.59 530L446.59 530ZM459.56 512L460.56 512L455.51 519L454.51 519ZM467.49 501L468.49 501L463.44 508L462.44 508ZM475.44 490L476.44 490L471.38 497L470.38 497ZM483.40 479L484.40 479L479.33 486L478.33 486ZM491.36 468L492.36 468L487.29 475L486.29 475ZM499.34 457L500.34 457L495.26 464L494.26 464ZM507.33 446L508.33 446L503.24 453L502.24 453ZM515.32 435L516.32 435L511.23 442L510.23 442ZM523.33 424L524.33 424L519.23 431L518.23 431ZM531.34 413L532.34 413L527.24 420L526.24 420ZM539.37 402L540.37 402L535.26 409L534.26 409ZM547.40 391L548.40 391L543.29 398L542.29 398ZM555.44 380L556.44 380L551.32 387L550.32 387ZM563.50 369L564.50 369L559.37 376L558.37 376ZM571.56 358L572.56 358L567.43 365L566.43 365ZM579.63 347L580.63 347L575.49 354L574.49 354ZM586.97 337L587.97 337L583.57 343L582.57 343ZM370.72 721L371.72 721L366.95 728L365.95 728ZM378.23 710L379.23 710L374.45 717L373.45 717ZM385.75 699L386.75 699L381.96 706L380.96 706ZM393.28 688L394.28 688L389.48 695L388.48 695ZM400.82 677L401.82 677L397.02 684L396.02 684ZM408.38 666L409.38 666L404.57 673L403.57 673ZM415.94 655L416.94 655L412.13 662L411.13 662ZM423.52 644L424.52 644L419.70 651L418.70 651ZM431.12 633L432.12 633L427.28 640L426.28 640ZM438.72 622L439.72 622L434.88 629L433.88 629ZM446.34 611L447.34 611L442.49 618L441.49 618ZM453.96 600L454.96 600L450.11 607L449.11 607ZM461.60 589L462.60 589L457.74 596L456.74 596ZM469.26 578L470.26 578L465.39 585L464.39 585ZM476.92 567L477.92 567L473.04 574L472.04 574ZM484.60 556L485.60 556L480.71 563L479.71 563ZM492.28 545L493.28 545L488.39 552L487.39 552ZM499.98 534L500.98 534L496.08 541L495.08 541ZM507.69 523L508.69 523L503.78 530L502.78 530ZM515.41 512L516.41 512L511.50 519L510.50 519ZM523.14 501L524.14 501L519.22 508L518.22 508ZM530.89 490L531.89 490L526.96 497L525.96 497ZM538.64 479L539.64 479L534.70 486L533.70 486ZM546.40 468L547.40 468L542.46 475L541.46 475ZM554.18 457L555.18 457L550.23 464L549.23 464ZM561.97 446L562.97 446L558.01 453L557.01 453ZM569.77 435L570.77 435L565.80 442L564.80 442ZM577.58 424L578.58 424L573.60 431L572.60 431ZM585.40 413L586.40 413L581.42 420L580.42 420ZM593.23 402L594.23 402L589.24 409L588.24 409ZM601.07 391L602.07 391L597.08 398L596.08 398ZM608.92 380L609.92 380L604.92 387L603.92 387ZM616.78 369L617.78 369L612.77 376L611.77 376ZM624.65 358L625.65 358L620.64 365L619.64 365ZM632.53 347L633.53 347L628.52 354L627.52 354ZM639.71 337L640.71 337L636.40 343L635.40 343ZM407.94 721L408.94 721L404.26 728L403.26 728ZM415.29 710L416.29 710L411.61 717L410.61 717ZM422.66 699L423.66 699L418.97 706L417.97 706ZM430.05 688L431.05 688L426.35 695L425.35 695ZM437.45 677L438.45 677L433.74 684L432.74 684ZM444.86 666L445.86 666L441.14 673L440.14 673ZM452.28 655L453.28 655L448.56 662L447.56 662ZM459.72 644L460.72 644L455.98 651L454.98 651ZM467.17 633L468.17 633L463.43 640L462.43 640ZM474.63 622L475.63 622L470.88 629L469.88 629ZM482.11 611L483.11 611L478.35 618L477.35 618ZM489.60 600L490.60 600L485.83 607L484.83 607ZM497.10 589L498.10 589L493.32 596L492.32 596ZM504.61 578L505.61 578L500.83 585L499.83 585ZM512.14 567L513.14 567L508.35 574L507.35 574ZM519.68 556L520.68 556L515.88 563L514.88 563ZM527.23 545L528.23 545L523.42 552L522.42 552ZM534.80 534L535.80 534L530.98 541L529.98 541ZM542.37 523L543.37 523L538.55 530L537.55 530ZM549.96 512L550.96 512L546.13 519L545.13 519ZM557.56 501L558.56 501L553.72 508L552.72 508ZM565.17 490L566.17 490L561.33 497L560.33 497ZM572.80 479L573.80 479L568.94 486L567.94 486ZM580.43 468L581.43 468L576.57 475L575.57 475ZM588.08 457L589.08 457L584.21 464L583.21 464ZM595.74 446L596.74 446L591.86 453L590.86 453ZM603.41 435L604.41 435L599.53 442L598.53 442ZM611.09 424L612.09 424L607.20 431L606.20 431ZM618.79 413L619.79 413L614.89 420L613.89 420ZM626.49 402L627.49 402L622.59 409L621.59 409ZM634.21 391L635.21 391L630.30 398L629.30 398ZM641.94 380L642.94 380L638.02 387L637.02 387ZM649.68 369L650.68 369L645.75 376L644.75 376ZM657.43 358L658.43 358L653.50 365L652.50 365ZM665.19 347L666.19 347L661.25 354L660.25 354ZM672.26 337L673.26 337L669.02 343L668.02 343ZM457.21 721L458.21 721L453.66 728L452.66 728ZM464.36 710L465.36 710L460.81 717L459.81 717ZM471.53 699L472.53 699L467.97 706L466.97 706ZM478.72 688L479.72 688L475.15 695L474.15 695ZM485.92 677L486.92 677L482.34 684L481.34 684ZM493.13 666L494.13 666L489.54 673L488.54 673ZM500.36 655L501.36 655L496.76 662L495.76 662ZM507.60 644L508.60 644L503.99 651L502.99 651ZM514.86 633L515.86 633L511.24 640L510.24 640ZM522.13 622L523.13 622L518.50 629L517.50 629ZM529.42 611L530.42 611L525.78 618L524.78 618ZM536.72 600L537.72 600L533.07 607L532.07 607ZM544.03 589L545.03 589L540.37 596L539.37 596ZM551.36 578L552.36 578L547.69 585L546.69 585ZM558.70 567L559.70 567L555.02 574L554.02 574ZM566.05 556L567.05 556L562.37 563L561.37 563ZM573.42 545L574.42 545L569.73 552L568.73 552ZM580.80 534L581.80 534L577.10 541L576.10 541ZM588.19 523L589.19 523L584.49 530L583.49 530ZM595.60 512L596.60 512L591.89 519L590.89 519ZM603.02 501L604.02 501L599.30 508L598.30 508ZM610.46 490L611.46 490L606.72 497L605.72 497ZM617.90 479L618.90 479L614.16 486L613.16 486ZM625.36 468L626.36 468L621.62 475L620.62 475ZM632.84 457L633.84 457L629.08 464L628.08 464ZM640.32 446L641.32 446L636.56 453L635.56 453ZM647.82 435L648.82 435L644.05 442L643.05 442ZM655.33 424L656.33 424L651.55 431L650.55 431ZM662.86 413L663.86 413L659.07 420L658.07 420ZM670.39 402L671.39 402L666.59 409L665.59 409ZM677.94 391L678.94 391L674.14 398L673.14 398ZM685.50 380L686.50 380L681.69 387L680.69 387ZM693.07 369L694.07 369L689.25 376L688.25 376ZM700.66 358L701.66 358L696.83 365L695.83 365ZM708.26 347L709.26 347L704.42 354L703.42 354ZM715.17 337L716.17 337L712.02 343L711.02 343ZM505.02 721L506.02 721L501.60 728L500.60 728ZM511.97 710L512.97 710L508.54 717L507.54 717ZM518.94 699L519.94 699L515.50 706L514.50 706ZM525.92 688L526.92 688L522.48 695L521.48 695ZM532.93 677L533.93 677L529.47 684L528.47 684ZM539.94 666L540.94 666L536.48 673L535.48 673ZM546.97 655L547.97 655L543.50 662L542.50 662ZM554.02 644L555.02 644L550.54 651L549.54 651ZM561.09 633L562.09 633L557.59 640L556.59 640ZM568.17 622L569.17 622L564.66 629L563.66 629ZM575.26 611L576.26 611L571.74 618L570.74 618ZM582.37 600L583.37 600L578.84 607L577.84 607ZM589.49 589L590.49 589L585.96 596L584.96 596ZM596.63 578L597.63 578L593.09 585L592.09 585ZM603.79 567L604.79 567L600.23 574L599.23 574ZM610.96 556L611.96 556L607.39 563L606.39 563ZM618.14 545L619.14 545L614.57 552L613.57 552ZM625.34 534L626.34 534L621.76 541L620.76 541ZM632.55 523L633.55 523L628.96 530L627.96 530ZM639.78 512L640.78 512L636.18 519L635.18 519ZM647.02 501L648.02 501L643.41 508L642.41 508ZM654.28 490L655.28 490L650.66 497L649.66 497ZM661.55 479L662.55 479L657.92 486L656.92 486ZM668.83 468L669.83 468L665.20 475L664.20 475ZM676.13 457L677.13 457L672.49 464L671.49 464ZM683.44 446L684.44 446L679.79 453L678.79 453ZM690.77 435L691.77 435L687.11 442L686.11 442ZM698.11 424L699.11 424L694.44 431L693.44 431ZM705.46 413L706.46 413L701.78 420L700.78 420ZM712.83 402L713.83 402L709.14 409L708.14 409ZM720.21 391L721.21 391L716.51 398L715.51 398ZM727.60 380L728.60 380L723.90 387L722.90 387ZM735.01 369L736.01 369L731.30 376L730.30 376ZM742.43 358L743.43 358L738.71 365L737.71 365ZM749.86 347L750.86 347L746.13 354L745.13 354ZM756.63 337L757.63 337L753.57 343L752.57 343ZM581.59 721L582.59 721L578.38 728L577.38 728ZM588.21 710L589.21 710L585.00 717L584.00 717ZM594.86 699L595.86 699L591.63 706L590.63 706ZM601.52 688L602.52 688L598.28 695L597.28 695ZM608.20 677L609.20 677L604.95 684L603.95 684ZM614.90 666L615.90 666L611.63 673L610.63 673ZM621.61 655L622.61 655L618.34 662L617.34 662ZM628.34 644L629.34 644L625.06 651L624.06 651ZM635.09 633L636.09 633L631.80 640L630.80 640ZM641.86 622L642.86 622L638.55 629L637.55 629ZM648.65 611L649.65 611L645.33 618L644.33 618ZM655.45 600L656.45 600L652.12 607L651.12 607ZM662.27 589L663.27 589L658.93 596L657.93 596ZM669.10 578L670.10 578L665.75 585L664.75 585ZM675.96 567L676.96 567L672.59 574L671.59 574ZM682.83 556L683.83 556L679.45 563L678.45 563ZM689.71 545L690.71 545L686.33 552L685.33 552ZM696.62 534L697.62 534L693.22 541L692.22 541ZM703.53 523L704.53 523L700.13 530L699.13 530ZM710.47 512L711.47 512L707.05 519L706.05 519ZM717.42 501L718.42 501L714.00 508L713.00 508ZM724.39 490L725.39 490L720.95 497L719.95 497ZM731.37 479L732.37 479L727.93 486L726.93 486ZM738.37 468L739.37 468L734.92 475L733.92 475ZM745.39 457L746.39 457L741.92 464L740.92 464ZM752.42 446L753.42 446L748.94 453L747.94 453ZM759.47 435L760.47 435L755.98 442L754.98 442ZM766.53 424L767.53 424L763.03 431L762.03 431ZM773.61 413L774.61 413L770.10 420L769.10 420ZM780.70 402L781.70 402L777.18 409L776.18 409ZM787.81 391L788.81 391L784.28 398L783.28 398ZM794.93 380L795.93 380L791.39 387L790.39 387ZM802.07 369L803.07 369L798.52 376L797.52 376ZM809.22 358L810.22 358L805.67 365L804.67 365ZM816.39 347L817.39 347L812.82 354L811.82 354ZM822.92 337L823.92 337L820.00 343L819.00 343ZM606.85 721L607.85 721L603.71 728L602.71 728ZM613.36 710L614.36 710L610.21 717L609.21 717ZM619.89 699L620.89 699L616.73 706L615.73 706ZM626.44 688L627.44 688L623.27 695L622.27 695ZM633.01 677L634.01 677L629.83 684L628.83 684ZM639.60 666L640.60 666L636.40 673L635.40 673ZM646.20 655L647.20 655L643.00 662L642.00 662ZM652.83 644L653.83 644L649.61 651L648.61 651ZM659.47 633L660.47 633L656.24 640L655.24 640ZM666.13 622L667.13 622L662.89 629L661.89 629ZM672.81 611L673.81 611L669.56 618L668.56 618ZM679.50 600L680.50 600L676.24 607L675.24 607ZM686.22 589L687.22 589L682.94 596L681.94 596ZM692.95 578L693.95 578L689.66 585L688.66 585ZM699.70 567L700.70 567L696.40 574L695.40 574ZM706.46 556L707.46 556L703.15 563L702.15 563ZM713.25 545L714.25 545L709.93 552L708.93 552ZM720.05 534L721.05 534L716.72 541L715.72 541ZM726.86 523L727.86 523L723.52 530L722.52 530ZM733.70 512L734.70 512L730.35 519L729.35 519ZM740.55 501L741.55 501L737.19 508L736.19 508ZM747.42 490L748.42 490L744.05 497L743.05 497ZM754.30 479L755.30 479L750.92 486L749.92 486ZM761.20 468L762.20 468L757.81 475L756.81 475ZM768.12 457L769.12 457L764.72 464L763.72 464ZM775.06 446L776.06 446L771.64 453L770.64 453ZM782.01 435L783.01 435L778.58 442L777.58 442ZM788.97 424L789.97 424L785.54 431L784.54 431ZM795.95 413L796.95 413L792.51 420L791.51 420ZM802.95 402L803.95 402L799.50 409L798.50 409ZM809.97 391L810.97 391L806.50 398L805.50 398ZM817.00 380L818.00 380L813.52 387L812.52 387ZM824.04 369L825.04 369L820.56 376L819.56 376ZM831.10 358L832.10 358L827.61 365L826.61 365ZM838.18 347L839.18 347L834.67 354L833.67 354ZM844.62 337L845.62 337L841.75 343L840.75 343Z" fill="#66dd66"/>
<g clip-path="url(#cp)" shape-rendering="crispEdges"><path d="M5.15 78L6.15 78L-625.86 728L-626.86 728ZM74.99 78L75.99 78L-556.02 728L-557.02 728ZM144.83 78L145.83 78L-486.19 728L-487.19 728ZM214.66 78L215.66 78L-416.35 728L-417.35 728ZM284.50 78L285.50 78L-346.51 728L-347.51 728ZM354.34 78L355.34 78L-276.68 728L-277.68 728ZM424.17 78L425.17 78L-206.84 728L-207.84 728ZM494.01 78L495.01 78L-137.00 728L-138.00 728ZM563.85 78L564.85 78L-67.17 728L-68.17 728ZM633.69 78L634.69 78L2.67 728L1.67 728ZM703.52 78L704.52 78L72.51 728L71.51 728ZM773.36 78L774.36 78L142.35 728L141.35 728ZM843.20 78L844.20 78L212.18 728L211.18 728ZM913.03 78L914.03 78L282.02 728L281.02 728ZM982.87 78L983.87 78L351.86 728L350.86 728ZM1122.54 78L1123.54 78L491.53 728L490.53 728ZM1192.38 78L1193.38 78L561.37 728L560.37 728ZM1262.22 78L1263.22 78L631.20 728L630.20 728ZM1332.06 78L1333.06 78L701.04 728L700.04 728ZM1401.89 78L1402.89 78L770.88 728L769.88 728Z" fill="#ff8000"/>
<path d="M1052.71 78L1053.71 78L421.69 728L420.69 728Z" fill="#000"/></g>
<text transform="translate(529.9,334) rotate(-60)" font-size="12" fill="#66dd66">0.4</text>
<text transform="translate(594.4,334) rotate(-60)" font-size="12" fill="#66dd66">1</text>
<text transform="translate(647,334) rotate(-60)" font-size="12" fill="#66dd66">2</text>
<text transform="translate(679.4,334) rotate(-60)" font-size="12" fill="#66dd66">3</text>
<text transform="translate(722.2,334) rotate(-60)" font-size="12" fill="#66dd66">5</text>
<text transform="translate(763.6,334) rotate(-60)" font-size="12" fill="#66dd66">8</text>
<text x="217" y="209" font-size="11" fill="#111">200mb</text>
<text x="217" y="334" font-size="11" fill="#111">300mb</text>
<text x="217" y="423" font-size="11" fill="#111">400mb</text>
<text x="217" y="492" font-size="11" fill="#111">500mb</text>
<text x="217" y="548" font-size="11" fill="#111">600mb</text>
<text x="217" y="596" font-size="11" fill="#111">700mb</text>
<text x="217" y="637" font-size="11" fill="#111">800mb</text>
<text x="217" y="673" font-size="11" fill="#111">900mb</text>
<text x="217" y="706" font-size="11" fill="#111">1000mb</text>
<text x="788" y="713.7" font-size="11" fill="#8c8c8c">0</text>
<text x="788" y="656" font-size="11" fill="#8c8c8c">5</text>
<text x="788" y="598.4" font-size="11" fill="#8c8c8c">10</text>
<text x="788" y="540.7" font-size="11" fill="#8c8c8c">15</text>
<text x="788" y="483" font-size="11" fill="#8c8c8c">20</text>
<text x="788" y="425.3" font-size="11" fill="#8c8c8c">25</text>
<text x="788" y="367.7" font-size="11" fill="#8c8c8c">30</text>
<text x="788" y="310" font-size="11" fill="#8c8c8c">35</text>
<text x="788" y="252.3" font-size="11" fill="#8c8c8c">40</text>
<text x="788" y="194.6" font-size="11" fill="#8c8c8c">45</text>
<text x="788" y="137" font-size="11" fill="#8c8c8c">50</text>
<text transform="translate(796,86) rotate(90)" font-size="11" fill="#8c8c8c">Height</text>
<text transform="translate(782,84) rotate(90)" font-size="11" fill="#8c8c8c">(1000ft)</text>
<g clip-path="url(#cp)" shape-rendering="crispEdges">
<path d="M588.00 83.79L588.00 84.79L595.00 78.02L595.00 77.02ZM577.00 94.44L577.00 95.44L584.00 88.66L584.00 87.66ZM566.00 105.09L566.00 106.09L573.00 99.31L573.00 98.31ZM555.00 115.74L555.00 116.74L562.00 109.96L562.00 108.96ZM547.00 123.48L547.00 124.48L551.00 120.61L551.00 119.61ZM541.02 126.57L541.02 127.57L548.00 123.72L548.00 122.72ZM530.07 132.60L530.07 133.60L537.05 129.76L537.05 128.76ZM519.12 138.64L519.12 139.64L526.09 135.79L526.09 134.79ZM508.16 144.67L508.16 145.67L515.14 141.83L515.14 140.83ZM497.21 150.71L497.21 151.71L504.18 147.86L504.18 146.86ZM486.25 156.74L486.25 157.74L493.23 153.90L493.23 152.90ZM475.30 162.78L475.30 163.78L482.28 159.93L482.28 158.93ZM475.28 162.50L476.28 162.50L476.60 169.47L475.60 169.47ZM475.78 173.44L476.78 173.44L477.10 180.41L476.10 180.41ZM476.28 184.38L477.28 184.38L477.60 191.35L476.60 191.35ZM476.78 195.32L477.78 195.32L478.10 202.29L477.10 202.29ZM477.28 206.26L478.28 206.26L478.60 213.23L477.60 213.23ZM477.80 217.20L478.80 217.20L478.80 218.20L477.80 218.20ZM477.74 217.20L478.74 217.20L479.54 224.22L478.54 224.22ZM478.99 228.24L479.99 228.24L480.79 235.26L479.79 235.26ZM480.24 239.27L481.24 239.27L482.04 246.29L481.04 246.29ZM481.49 250.31L482.49 250.31L483.29 257.33L482.29 257.33ZM482.74 261.35L483.74 261.35L484.53 268.37L483.53 268.37ZM483.99 272.39L484.99 272.39L485.56 277.40L484.56 277.40ZM484.39 276.40L485.39 276.40L486.93 283.38L485.93 283.38ZM486.81 287.37L487.81 287.37L489.35 294.35L488.35 294.35ZM489.23 298.34L490.23 298.34L491.77 305.33L490.77 305.33ZM491.65 309.31L492.65 309.31L494.19 316.30L493.19 316.30ZM494.07 320.28L495.07 320.28L496.61 327.27L495.61 327.27ZM496.49 331.25L497.49 331.25L499.03 338.24L498.03 338.24ZM498.91 342.22L499.91 342.22L501.45 349.21L500.45 349.21ZM500.71 351.20L501.71 351.20L505.75 358.27L504.75 358.27ZM506.15 360.30L507.15 360.30L507.95 367.80L506.95 367.80ZM506.68 366.80L507.68 366.80L510.82 374.03L509.82 374.03ZM510.74 375.10L511.74 375.10L509.76 379.25L508.76 379.25ZM508.87 378.25L509.87 378.25L511.68 385.06L510.68 385.06ZM511.70 388.90L512.70 388.90L513.73 392.80L512.73 392.80ZM512.41 391.80L513.41 391.80L516.08 398.77L515.08 398.77ZM516.61 402.75L517.61 402.75L520.28 409.72L519.28 409.72ZM521.00 413.70L522.00 413.70L522.00 414.70L521.00 414.70ZM520.94 413.70L521.94 413.70L522.81 420.93L521.81 420.93ZM521.79 422.00L522.79 422.00L525.74 428.89L524.74 428.89ZM526.42 432.80L527.42 432.80L529.11 436.75L528.11 436.75ZM527.80 435.75L528.80 435.75L530.11 442.56L529.11 442.56ZM529.85 446.40L530.85 446.40L531.60 450.30L530.60 450.30ZM530.25 449.30L531.25 449.30L534.67 456.14L533.67 456.14ZM535.60 460.01L536.60 460.01L539.05 464.90L538.05 464.90ZM537.68 463.90L538.68 463.90L540.41 470.87L539.41 470.87ZM540.40 474.85L541.40 474.85L543.14 481.83L542.14 481.83ZM543.13 485.80L544.13 485.80L544.62 487.80L543.62 487.80ZM543.46 486.80L544.46 486.80L545.00 493.71L544.00 493.71ZM544.30 497.64L545.30 497.64L545.83 504.56L544.83 504.56ZM545.19 507.50L546.19 507.50L545.11 513.50L544.11 513.50ZM543.98 512.50L544.98 512.50L548.02 519.35L547.02 519.35ZM548.74 523.23L549.74 523.23L550.62 525.20L549.62 525.20ZM549.42 524.20L550.42 524.20L550.13 531.20L549.13 531.20ZM548.97 535.20L549.97 535.20L549.68 542.20L548.68 542.20ZM548.62 541.20L549.62 541.20L550.73 548.12L549.73 548.12ZM550.36 552.05L551.36 552.05L552.48 558.97L551.48 558.97ZM552.11 562.90L553.11 562.90L554.22 569.81L553.22 569.81ZM553.30 569.80L554.30 569.80L554.30 577.17L553.30 577.17ZM553.56 578.30L554.56 578.30L552.04 583.20L551.04 583.20ZM546.80 584.31L546.80 585.31L552.30 582.99L552.30 581.99ZM540.95 584.75L540.95 585.75L547.80 585.05L547.80 584.05ZM530.22 585.85L530.22 586.85L537.07 586.15L537.07 585.15ZM521.10 589.77L521.10 590.77L528.30 586.83L528.30 585.83ZM521.48 589.50L522.48 589.50L517.02 596.75L516.02 596.75ZM516.45 595.75L517.45 595.75L516.72 602.66L515.72 602.66ZM515.31 606.58L516.31 606.58L515.57 613.49L514.57 613.49ZM514.16 617.42L515.16 617.42L514.95 619.40L513.95 619.40ZM514.32 618.40L515.32 618.40L511.01 625.13L510.01 625.13ZM508.67 627.00L509.67 627.00L507.22 634.05L506.22 634.05ZM504.81 638.09L505.81 638.09L503.35 645.14L502.35 645.14ZM500.94 649.18L501.94 649.18L499.48 656.23L498.48 656.23ZM497.69 658.25L498.69 658.25L497.42 665.30L496.42 665.30ZM495.68 669.35L496.68 669.35L495.41 676.40L494.41 676.40ZM494.79 675.40L495.79 675.40L492.91 680.30L491.91 680.30ZM486.06 682.84L486.06 683.84L493.20 680.03L493.20 679.03ZM478.90 686.67L478.90 687.67L481.95 686.04L481.95 685.04ZM478.81 686.40L479.81 686.40L480.79 692.10L479.79 692.10ZM479.24 691.10L480.24 691.10L485.81 697.15L484.81 697.15ZM483.89 696.15L484.89 696.15L490.46 702.20L489.46 702.20Z" fill="#dde800"/>
<path d="M471.50 77.50L472.50 77.50L468.25 84.47L467.25 84.47ZM464.83 88.45L465.83 88.45L461.58 95.42L460.58 95.42ZM458.15 99.40L459.15 99.40L454.90 106.37L453.90 106.37ZM451.48 110.35L452.48 110.35L448.23 117.32L447.23 117.32ZM444.50 121.30L445.50 121.30L445.50 122.30L444.50 122.30ZM444.51 121.30L445.51 121.30L445.43 128.22L444.43 128.22ZM444.39 132.16L445.39 132.16L445.32 139.08L444.32 139.08ZM444.27 143.01L445.27 143.01L445.20 149.93L444.20 149.93ZM444.16 153.87L445.16 153.87L445.09 159.80L444.09 159.80ZM444.19 158.80L445.19 158.80L443.97 165.77L442.97 165.77ZM442.28 169.74L443.28 169.74L442.07 176.70L441.07 176.70ZM440.38 180.67L441.38 180.67L440.17 187.64L439.17 187.64ZM438.48 191.61L439.48 191.61L438.26 198.57L437.26 198.57ZM436.57 202.55L437.57 202.55L436.36 209.51L435.36 209.51ZM434.96 210.50L435.96 210.50L437.92 217.55L436.92 217.55ZM438.04 221.60L439.04 221.60L440.99 228.65L439.99 228.65ZM441.11 232.70L442.11 232.70L444.06 239.75L443.06 239.75ZM444.18 243.79L445.18 243.79L447.14 250.85L446.14 250.85ZM447.26 254.89L448.26 254.89L450.21 261.95L449.21 261.95ZM450.33 265.99L451.33 265.99L451.89 268.00L450.89 268.00ZM450.64 267.00L451.64 267.00L453.18 273.97L452.18 273.97ZM453.07 277.95L454.07 277.95L455.61 284.93L454.61 284.93ZM455.49 288.90L456.49 288.90L458.04 295.88L457.04 295.88ZM457.92 299.85L458.92 299.85L460.46 306.83L459.46 306.83ZM460.35 310.81L461.35 310.81L462.89 317.78L461.89 317.78ZM462.77 321.76L463.77 321.76L465.32 328.73L464.32 328.73ZM465.20 332.71L466.20 332.71L466.86 335.70L465.86 335.70ZM459.73 339.88L459.73 340.88L466.75 335.30L466.75 334.30ZM448.70 348.65L448.70 349.65L455.72 344.07L455.72 343.07ZM448.20 348.25L449.20 348.25L456.42 355.50L455.42 355.50ZM460.10 359.70L461.10 359.70L461.10 360.70L460.10 360.70ZM460.10 359.48L460.10 360.48L467.14 363.58L467.14 362.58ZM471.17 364.36L471.17 365.36L477.20 368.02L477.20 367.02ZM475.95 366.80L476.95 366.80L480.05 373.00L479.05 373.00ZM478.80 371.67L478.80 372.67L484.50 376.43L484.50 375.43ZM478.80 378.59L478.80 379.59L484.50 375.76L484.50 374.76ZM478.80 378.21L478.80 379.21L486.00 379.84L486.00 378.84ZM485.00 378.80L486.00 378.80L486.00 381.90L485.00 381.90ZM478.96 385.62L478.96 386.62L486.00 381.54L486.00 380.54ZM469.90 392.16L469.90 393.16L474.93 389.53L474.93 388.53ZM469.90 391.65L469.90 392.65L476.97 394.79L476.97 393.79ZM481.03 395.01L481.03 396.01L488.10 398.15L488.10 397.15ZM487.29 397.00L488.29 397.00L486.31 402.20L485.31 402.20ZM485.50 401.16L485.50 402.16L492.30 402.74L492.30 401.74ZM493.09 399.10L494.09 399.10L492.01 402.70L491.01 402.70ZM492.80 399.04L492.80 400.04L498.00 400.66L498.00 399.66ZM497.08 399.60L498.08 399.60L497.42 403.70L496.42 403.70ZM496.50 402.57L496.50 403.57L503.35 405.41L503.35 404.41ZM498.06 406.81L498.06 407.81L505.30 405.65L505.30 404.65ZM493.90 407.58L493.90 408.58L500.60 412.92L500.60 411.92ZM493.40 418.30L493.40 419.30L500.60 412.10L500.60 411.10ZM493.09 417.80L494.09 417.80L497.31 423.00L496.31 423.00ZM496.37 422.00L497.37 422.00L492.28 428.85L491.28 428.85ZM490.20 429.60L490.20 430.60L497.20 433.40L497.20 432.40ZM501.20 434.00L501.20 435.00L508.20 437.80L508.20 436.80ZM504.34 443.01L504.34 444.01L511.20 438.39L511.20 437.39ZM493.60 451.81L493.60 452.81L500.46 447.19L500.46 446.19ZM493.60 451.40L494.60 451.40L494.60 456.50L493.60 456.50ZM493.60 455.33L493.60 456.33L500.70 458.77L500.70 457.77ZM504.78 459.18L504.78 460.18L511.88 462.62L511.88 461.62ZM515.97 463.03L515.97 464.03L519.00 465.07L519.00 464.07ZM518.38 463.90L519.38 463.90L514.09 470.85L513.09 470.85ZM509.70 474.80L510.70 474.80L510.70 475.80L509.70 475.80ZM509.70 474.80L510.70 474.80L510.70 478.40L509.70 478.40ZM509.70 477.12L509.70 478.12L516.64 481.96L516.64 480.96ZM520.58 483.14L520.58 484.14L527.52 487.98L527.52 486.98ZM528.56 487.80L529.56 487.80L528.84 494.00L527.84 494.00ZM527.64 493.00L528.64 493.00L532.41 500.20L531.41 500.20ZM533.60 504.37L534.60 504.37L535.66 506.40L534.66 506.40ZM528.40 509.60L528.40 510.60L535.40 506.08L535.40 505.08ZM523.40 512.50L524.40 512.50L524.40 513.50L523.40 513.50ZM522.96 512.50L523.96 512.50L530.34 519.70L529.34 519.70ZM533.04 523.87L534.04 523.87L535.84 525.90L534.84 525.90ZM528.55 529.84L528.55 530.84L535.40 525.51L535.40 524.51ZM522.70 534.39L522.70 535.39L524.68 533.85L524.68 532.85ZM522.83 534.00L523.83 534.00L522.02 541.02L521.02 541.02ZM519.99 545.05L520.99 545.05L519.18 552.07L518.18 552.07ZM517.15 556.09L518.15 556.09L516.34 563.12L515.34 563.12ZM514.30 567.14L515.30 567.14L513.50 574.16L512.50 574.16ZM511.46 578.18L512.46 578.18L511.17 583.20L510.17 583.20ZM504.30 582.46L504.30 583.46L511.30 583.18L511.30 582.18ZM493.31 582.89L493.31 583.89L500.31 583.62L500.31 582.62ZM482.32 583.33L482.32 584.33L489.31 584.05L489.31 583.05ZM471.33 583.76L471.33 584.76L478.32 584.49L478.32 583.49ZM460.33 584.20L460.33 585.20L467.33 584.92L467.33 583.92ZM449.34 584.64L449.34 585.64L456.34 585.36L456.34 584.36ZM438.35 585.07L438.35 586.07L445.34 585.79L445.34 584.79ZM427.35 585.51L427.35 586.51L434.35 586.23L434.35 585.23ZM416.36 585.94L416.36 586.94L423.36 586.67L423.36 585.67ZM405.37 586.38L405.37 587.38L412.36 587.10L412.36 586.10ZM394.38 586.81L394.38 587.81L401.37 587.54L401.37 586.54ZM383.38 587.25L383.38 588.25L390.38 587.97L390.38 586.97ZM372.39 587.69L372.39 588.69L379.39 588.41L379.39 587.41ZM361.40 588.12L361.40 589.12L368.39 588.84L368.39 587.84ZM356.40 588.30L357.40 588.30L357.40 589.30L356.40 589.30ZM350.40 588.98L350.40 589.98L357.40 589.25L357.40 588.25ZM339.40 590.14L339.40 591.14L346.40 590.40L346.40 589.40ZM328.40 591.30L328.40 592.30L335.40 591.56L335.40 590.56ZM317.40 592.45L317.40 593.45L324.40 592.72L324.40 591.72ZM311.58 595.26L311.58 596.26L318.40 593.17L318.40 592.17ZM304.80 598.33L304.80 599.33L307.74 598.00L307.74 597.00ZM304.63 598.10L305.63 598.10L307.94 605.01L306.94 605.01ZM308.25 608.94L309.25 608.94L310.57 612.90L309.57 612.90ZM309.00 611.90L310.00 611.90L315.40 618.60L314.40 618.60ZM313.88 617.60L314.88 617.60L316.22 623.20L315.22 623.20ZM315.10 622.12L315.10 623.12L322.01 624.25L322.01 623.25ZM325.94 623.90L325.94 624.90L332.86 626.03L332.86 625.03ZM335.36 625.60L336.36 625.60L342.70 632.84L341.70 632.84ZM344.90 635.70L344.90 636.70L351.60 640.70L351.60 639.70ZM350.28 639.40L351.28 639.40L355.66 646.22L354.66 646.22ZM357.13 650.06L358.13 650.06L360.02 653.00L359.02 653.00ZM358.70 651.90L358.70 652.90L365.59 654.23L365.59 653.23ZM369.50 653.99L369.50 654.99L376.40 656.31L376.40 655.31ZM380.31 656.07L380.31 657.07L387.20 658.40L387.20 657.40ZM386.20 656.95L386.20 657.95L393.38 663.03L393.38 662.03ZM396.50 664.55L396.50 665.55L403.53 666.24L403.53 665.24ZM407.55 665.63L407.55 666.63L414.58 667.31L414.58 666.31ZM418.60 666.70L418.60 667.70L425.62 668.39L425.62 667.39ZM429.65 667.78L429.65 668.78L436.67 669.46L436.67 668.46ZM440.70 668.85L440.70 669.85L442.70 670.05L442.70 669.05ZM441.50 669.00L442.50 669.00L444.45 673.90L443.45 673.90ZM443.25 672.52L443.25 673.52L447.40 676.68L447.40 675.68ZM446.40 675.20L446.40 676.20L453.25 677.52L453.25 676.52ZM448.20 678.23L448.20 679.23L455.20 677.69L455.20 676.69ZM437.20 680.64L437.20 681.64L444.20 680.10L444.20 679.10ZM426.20 683.06L426.20 684.06L433.20 682.52L433.20 681.52ZM415.20 685.47L415.20 686.47L422.20 684.93L422.20 683.93ZM412.91 685.80L413.91 685.80L416.79 690.70L415.79 690.70ZM415.50 689.62L415.50 690.62L422.48 691.77L422.48 690.77ZM426.46 691.43L426.46 692.43L433.45 693.58L433.45 692.58ZM437.43 693.24L437.43 694.24L444.41 695.39L444.41 694.39ZM446.21 694.80L447.21 694.80L449.89 701.70L448.89 701.70Z" fill="#0000ff"/>
<polyline points="596.5,78 577.7,96.8 559,114.1 549.2,123.5 522.5,137.5 493.3,153.1 475.8,163 476,176 477.7,199 478.3,217.7 480,230 480.4,236 485,276.9 490.5,297.2 501,336.2 502.8,340 508,354.3 510.6,360.8 511.2,368 513.9,373.9 514.1,381.7 519,392 519,399.9 523,408.4 525,413.6 528.8,418.8 529.5,424.6 532.9,431.9 534.7,437.8 538,444.3 541.2,449.5 543.9,455.4 544.5,462.6 547.8,469 551.7,476.9 552,484.7 552.7,493.8 553.6,502.9 554.9,508.1 558.2,515.9 561.7,526.5 564.3,534.3 568.8,542.8 572.7,550.6 577.3,559.1 581.2,566.9 585.1,574.7 588.4,581.2 586.4,586.4 582.9,593.2 585.1,599.4 589,607.2 590.9,612.6 590.5,623 586.6,624.3 583.3,626.3 582.7,637.3 579.4,638.6 576.8,641.9 576.2,653 571,654.9 562.5,657.9 560.5,661.4 557.9,666 552.1,666.6 543,668 535.2,669.2 534.1,670.2 535.2,675.8 532.3,677.7 529.3,683.6 524.7,688.1 522.8,691.4 517.6,693.3 516.9,695.9 520.2,697.9 526.7,701.8" stroke="#0000ff" stroke-width="2" fill="none" stroke-linejoin="round"/>
</g>
<rect x="214" y="77" width="591" height="653" fill="none" stroke="#000" stroke-width="2"/>
<text x="268" y="745" font-size="13" fill="#f00">-20</text>
<text x="338" y="745" font-size="13" fill="#f00">-10</text>
<text x="408.3" y="745" font-size="13" fill="#f00">0</text>
<text x="478.3" y="745" font-size="13" fill="#f00">10</text>
<text x="548.3" y="745" font-size="13" fill="#f00">20</text>
<text x="618.3" y="745" font-size="13" fill="#f00">30</text>
<text x="688.3" y="745" font-size="13" fill="#f00">40</text>
<text x="758.3" y="745" font-size="13" fill="#f00">50</text>
<text x="197.6" y="745" font-size="13" fill="#f00" clip-path="url(#cpl)">-30</text>
<rect x="861" y="74" width="2" height="655" fill="#e8e8e8"/>
<path d="M838.42 93.80L839.42 93.80L861.48 123.00L860.48 123.00ZM846.77 82.90L847.77 82.90L839.45 94.80L838.45 94.80ZM849.56 90.69L850.56 90.69L843.73 100.47L842.73 100.47ZM850.57 101.03L851.57 101.03L848.01 106.13L847.01 106.13ZM836.37 135.70L837.37 135.70L861.53 164.00L860.53 164.00ZM844.06 124.36L845.06 124.36L837.49 136.70L836.49 136.70ZM847.31 131.98L848.31 131.98L842.10 142.10L841.10 142.10ZM838.23 181.85L839.23 181.85L861.47 211.90L860.47 211.90ZM846.68 171.02L847.68 171.02L839.24 182.85L838.24 182.85ZM849.39 178.85L850.39 178.85L843.47 188.56L842.47 188.56ZM850.31 189.19L851.31 189.19L847.69 194.26L846.69 194.26ZM853.10 245.10L854.10 245.10L861.20 281.00L860.20 281.00ZM853.20 245.38L853.20 246.38L865.81 239.34L865.81 238.34ZM854.58 252.34L854.58 253.34L864.92 247.57L864.92 246.57ZM855.94 301.10L856.94 301.10L861.16 337.80L860.16 337.80ZM856.00 301.33L856.00 302.33L869.10 296.35L869.10 295.35ZM856.81 308.38L856.81 309.38L867.54 304.48L867.54 303.48ZM857.62 315.44L857.62 316.44L863.17 313.90L863.17 312.90ZM853.91 314.50L854.91 314.50L861.19 350.90L860.19 350.90ZM854.00 314.76L854.00 315.76L866.77 309.04L866.77 308.04ZM855.21 321.76L855.21 322.76L860.63 319.90L860.63 318.90ZM852.80 330.50L853.80 330.50L861.20 367.10L860.20 367.10ZM852.90 330.78L852.90 331.78L865.48 324.68L865.48 323.68ZM854.31 337.74L854.31 338.74L859.66 335.72L859.66 334.72ZM843.34 349.70L844.34 349.70L861.36 381.90L860.36 381.90ZM853.35 340.15L854.35 340.15L844.11 350.70L843.11 350.70ZM850.89 352.39L851.89 352.39L847.43 356.98L846.43 356.98ZM836.27 373.90L837.27 373.90L861.53 402.20L860.53 402.20ZM843.93 362.55L844.93 362.55L837.39 374.90L836.39 374.90ZM844.23 375.02L845.23 375.02L842.02 380.29L841.02 380.29ZM836.27 384.80L837.27 384.80L861.53 413.20L860.53 413.20ZM843.96 373.46L844.96 373.46L837.39 385.80L836.39 385.80ZM844.23 385.94L845.23 385.94L842.00 391.20L841.00 391.20ZM836.47 397.90L837.47 397.90L861.53 426.00L860.53 426.00ZM844.14 386.55L845.14 386.55L837.59 398.90L836.59 398.90ZM844.43 399.03L845.43 399.03L842.21 404.29L841.21 404.29ZM834.90 412.40L834.90 413.40L861.10 439.40L861.10 438.40ZM841.14 401.03L842.14 401.03L835.65 413.90L834.65 413.90ZM842.44 413.44L843.44 413.44L840.69 418.90L839.69 418.90ZM834.90 426.51L834.90 427.51L861.10 452.99L861.10 451.99ZM841.02 415.07L842.02 415.07L835.65 428.00L834.65 428.00ZM844.96 422.35L845.96 422.35L840.74 432.95L839.74 432.95ZM838.83 434.80L839.83 434.80L861.47 464.30L860.47 464.30ZM847.33 424.01L848.33 424.01L839.84 435.80L838.84 435.80ZM846.68 436.47L847.68 436.47L844.04 441.53L843.04 441.53ZM838.73 448.70L839.73 448.70L861.47 478.00L860.47 478.00ZM847.16 437.86L848.16 437.86L839.74 449.70L838.74 449.70ZM846.58 450.33L847.58 450.33L843.98 455.40L842.98 455.40ZM838.74 464.20L839.74 464.20L861.46 494.40L860.46 494.40ZM847.34 453.48L848.34 453.48L839.73 465.20L838.73 465.20ZM846.57 465.93L847.57 465.93L843.88 470.96L842.88 470.96ZM848.94 478.80L849.94 478.80L861.26 514.50L860.26 514.50ZM851.25 485.93L851.25 486.93L856.31 483.30L856.31 482.30ZM847.71 501.70L848.71 501.70L861.29 535.10L860.29 535.10ZM850.40 508.74L850.40 509.74L855.31 505.82L855.31 504.82ZM825.00 589.44L825.00 590.44L861.10 587.76L861.10 586.76ZM819.76 577.09L820.76 577.09L826.20 590.40L825.20 590.40ZM825.00 589.28L825.00 590.28L861.10 599.02L861.10 598.02ZM823.94 576.14L824.94 576.14L826.04 590.40L825.04 590.40ZM824.80 604.60L824.80 605.60L861.10 613.00L861.10 612.00ZM823.24 591.48L824.24 591.48L825.86 605.70L824.86 605.70ZM824.80 604.40L824.80 605.40L861.10 627.30L861.10 626.30ZM832.13 603.50L833.13 603.50L831.76 609.37L830.76 609.37ZM829.70 620.17L829.70 621.17L861.10 642.13L861.10 641.13ZM837.10 619.63L838.10 619.63L836.46 625.44L835.46 625.44ZM835.75 625.75L836.75 625.75L861.55 653.10L860.55 653.10ZM843.74 626.67L844.74 626.67L841.68 632.01L840.68 632.01ZM860.22 664.50L861.22 664.50L852.68 699.70L851.68 699.70ZM848.49 692.22L848.49 693.22L854.47 692.76L854.47 691.76ZM832.70 714.62L832.70 715.62L861.10 691.58L861.10 690.58ZM859.78 676.40L860.78 676.40L880.52 707.50L879.52 707.50ZM875.81 700.51L876.81 700.51L872.79 705.36L871.79 705.36Z" fill="#0000ff" shape-rendering="crispEdges"/>
</svg></body></html>
